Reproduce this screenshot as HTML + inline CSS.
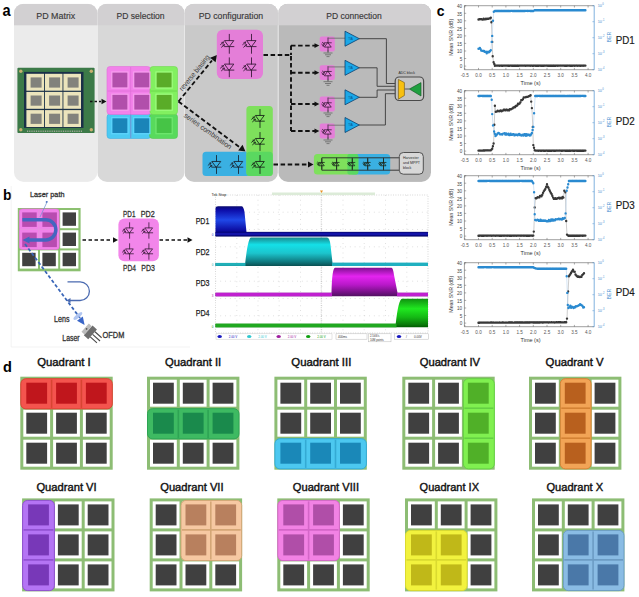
<!DOCTYPE html><html><head><meta charset="utf-8"><style>html,body{margin:0;padding:0;background:#fff;overflow:hidden;width:639px;height:597px;}svg{display:block;font-family:"Liberation Sans",sans-serif;}</style></head><body><svg width="639" height="597" viewBox="0 0 639 597" font-family="'Liberation Sans', sans-serif">
<rect width="639" height="597" fill="#fff"/>
<defs><linearGradient id="gb" x1="0" y1="0" x2="0" y2="1"><stop offset="0" stop-color="#0a0a70"/><stop offset="0.12" stop-color="#0c0ca8"/><stop offset="0.45" stop-color="#2048e8"/><stop offset="0.8" stop-color="#0c0ca0"/><stop offset="1" stop-color="#000060"/></linearGradient><linearGradient id="gc" x1="0" y1="0" x2="0" y2="1"><stop offset="0" stop-color="#1a8a8e"/><stop offset="0.25" stop-color="#14e0e8"/><stop offset="0.55" stop-color="#1cc4cc"/><stop offset="0.85" stop-color="#0f7a80"/><stop offset="1" stop-color="#0a5052"/></linearGradient><linearGradient id="gm" x1="0" y1="0" x2="0" y2="1"><stop offset="0" stop-color="#801090"/><stop offset="0.3" stop-color="#e424f0"/><stop offset="0.6" stop-color="#b818c8"/><stop offset="0.88" stop-color="#701080"/><stop offset="1" stop-color="#501060"/></linearGradient><linearGradient id="gg" x1="0" y1="0" x2="0" y2="1"><stop offset="0" stop-color="#109010"/><stop offset="0.35" stop-color="#20e820"/><stop offset="0.65" stop-color="#14b814"/><stop offset="0.9" stop-color="#0a7a0a"/><stop offset="1" stop-color="#005a00"/></linearGradient></defs>
<text transform="translate(2.6,15.5) scale(0.9,1)" font-size="16.2" font-weight="bold" fill="#000">a</text>
<text transform="translate(3.1,199.9) scale(0.95,1)" font-size="15" font-weight="bold" fill="#000">b</text>
<text transform="translate(436.8,16.2) scale(0.93,1)" font-size="15" font-weight="bold" fill="#000">c</text>
<text transform="translate(2.9,371.6) scale(0.95,1)" font-size="15.3" font-weight="bold" fill="#000">d</text>
<clipPath id="cp14"><rect x="14" y="3.8" width="83.3" height="178.1" rx="9.5"/></clipPath>
<g clip-path="url(#cp14)"><rect x="14" y="3.8" width="83.3" height="178.1" fill="#ebebeb"/><rect x="14" y="3.8" width="83.3" height="21.5" fill="#d2d0d2"/></g>
<text x="36.3" y="19.1" font-size="9" fill="#3a3a3a" text-anchor="start" font-weight="normal" textLength="39" lengthAdjust="spacingAndGlyphs" stroke="#3a3a3a" stroke-width="0.15">PD Matrix</text>
<clipPath id="cp97"><rect x="97.3" y="3.8" width="87.1" height="178.1" rx="9.5"/></clipPath>
<g clip-path="url(#cp97)"><rect x="97.3" y="3.8" width="87.1" height="178.1" fill="#d8d8d8"/><rect x="97.3" y="3.8" width="87.1" height="21.5" fill="#d2d0d2"/></g>
<text x="116.6" y="19.1" font-size="9" fill="#3a3a3a" text-anchor="start" font-weight="normal" textLength="48" lengthAdjust="spacingAndGlyphs" stroke="#3a3a3a" stroke-width="0.15">PD selection</text>
<clipPath id="cp184"><rect x="184.4" y="3.8" width="93.5" height="178.1" rx="9.5"/></clipPath>
<g clip-path="url(#cp184)"><rect x="184.4" y="3.8" width="93.5" height="178.1" fill="#c9c9c9"/><rect x="184.4" y="3.8" width="93.5" height="21.5" fill="#d2d0d2"/></g>
<text x="198.7" y="19.1" font-size="9" fill="#3a3a3a" text-anchor="start" font-weight="normal" textLength="64.5" lengthAdjust="spacingAndGlyphs" stroke="#3a3a3a" stroke-width="0.15">PD configuration</text>
<clipPath id="cp278"><rect x="278.3" y="3.8" width="152.7" height="178.1" rx="9.5"/></clipPath>
<g clip-path="url(#cp278)"><rect x="278.3" y="3.8" width="152.7" height="178.1" fill="#bababa"/><rect x="278.3" y="3.8" width="152.7" height="21.5" fill="#d2d0d2"/></g>
<text x="326.2" y="19.1" font-size="9" fill="#3a3a3a" text-anchor="start" font-weight="normal" textLength="55.6" lengthAdjust="spacingAndGlyphs" stroke="#3a3a3a" stroke-width="0.15">PD connection</text>
<rect x="17.4" y="67.7" width="77.2" height="65.3" rx="1" fill="#3c7a48"/>
<rect x="24" y="71.9" width="59.5" height="56" fill="#1a3048"/>
<rect x="26.4" y="73.8" width="17.6" height="16.9" fill="#ebe4bc"/>
<rect x="30.6" y="77.4" width="11" height="10.2" fill="#82827c"/>
<rect x="44.9" y="73.8" width="17.6" height="16.9" fill="#ebe4bc"/>
<rect x="49.1" y="77.4" width="11" height="10.2" fill="#82827c"/>
<rect x="63.4" y="73.8" width="17.6" height="16.9" fill="#ebe4bc"/>
<rect x="67.6" y="77.4" width="11" height="10.2" fill="#82827c"/>
<rect x="26.4" y="91.9" width="17.6" height="16.9" fill="#ebe4bc"/>
<rect x="30.6" y="95.5" width="11" height="10.2" fill="#82827c"/>
<rect x="44.9" y="91.9" width="17.6" height="16.9" fill="#ebe4bc"/>
<rect x="49.1" y="95.5" width="11" height="10.2" fill="#82827c"/>
<rect x="63.4" y="91.9" width="17.6" height="16.9" fill="#ebe4bc"/>
<rect x="67.6" y="95.5" width="11" height="10.2" fill="#82827c"/>
<rect x="26.4" y="110.1" width="17.6" height="16.9" fill="#ebe4bc"/>
<rect x="30.6" y="113.7" width="11" height="10.2" fill="#82827c"/>
<rect x="44.9" y="110.1" width="17.6" height="16.9" fill="#ebe4bc"/>
<rect x="49.1" y="113.7" width="11" height="10.2" fill="#82827c"/>
<rect x="63.4" y="110.1" width="17.6" height="16.9" fill="#ebe4bc"/>
<rect x="67.6" y="113.7" width="11" height="10.2" fill="#82827c"/>
<circle cx="20.8" cy="71.2" r="1.7" fill="#c8b070"/>
<circle cx="91.3" cy="71.2" r="1.7" fill="#c8b070"/>
<circle cx="20.8" cy="129.8" r="1.7" fill="#c8b070"/>
<circle cx="91.3" cy="129.8" r="1.7" fill="#c8b070"/>
<path d="M27 131.2 h55" stroke="#a0a898" stroke-width="1.4" stroke-dasharray="1 0.8"/>
<path d="M90 101.5 H101" stroke="#111" stroke-width="1.6" fill="none" stroke-dasharray="2.5 2"/>
<path d="M106.5 101.5 L101.5 98.8 L101.5 104.2 Z" fill="#111"/>
<rect x="107" y="114" width="44" height="24.5" rx="3" fill="#4ccaf2" stroke="#40b0e0" stroke-width="0.6"/>
<rect x="149.5" y="114" width="28" height="24.5" rx="3" fill="#58da5c" stroke="#50c850" stroke-width="0.6"/>
<rect x="107" y="66.5" width="43.5" height="48" rx="3" fill="#f282ea" stroke="#e070d8" stroke-width="0.6"/>
<rect x="150" y="66.5" width="27.5" height="48" rx="3" fill="#82f060" stroke="#70d850" stroke-width="0.6"/>
<rect x="111.8" y="72" width="16.2" height="16" fill="#b14fab" stroke="#f8a0f0" stroke-width="1.2"/>
<rect x="133.7" y="72" width="16.2" height="16" fill="#b14fab" stroke="#f8a0f0" stroke-width="1.2"/>
<rect x="156" y="72" width="16.2" height="16" fill="#5aac28" stroke="#a0ff80" stroke-width="1.2"/>
<rect x="111.8" y="94.2" width="16.2" height="16" fill="#b14fab" stroke="#f8a0f0" stroke-width="1.2"/>
<rect x="133.7" y="94.2" width="16.2" height="16" fill="#b14fab" stroke="#f8a0f0" stroke-width="1.2"/>
<rect x="156" y="94.2" width="16.2" height="16" fill="#5aac28" stroke="#a0ff80" stroke-width="1.2"/>
<rect x="111.8" y="117.7" width="16.2" height="16" fill="#1a84b8" stroke="#60d8ff" stroke-width="1.2"/>
<rect x="133.7" y="117.7" width="16.2" height="16" fill="#1a84b8" stroke="#60d8ff" stroke-width="1.2"/>
<rect x="156" y="117.7" width="16.2" height="16" fill="#46c446" stroke="#70e870" stroke-width="1.2"/>
<path d="M130.7 67 V138 M107.5 91 H150" stroke="#e070d8" stroke-width="0.8"/>
<path d="M130.7 114.5 V138" stroke="#40a8d8" stroke-width="0.8"/>
<path d="M150.5 91 H177" stroke="#68d048" stroke-width="0.8"/>
<path d="M178.5 101.5 L212 60.5" stroke="#111" stroke-width="1.9" fill="none" stroke-dasharray="4.5 2.6"/>
<path d="M217.0 55.0 L210.1 57.7 L215.6 62.3 Z" fill="#111"/>
<path d="M178.5 101.5 L240 147.5" stroke="#111" stroke-width="1.9" fill="none" stroke-dasharray="4.5 2.6"/>
<path d="M245.5 151.5 L242.5 144.7 L238.2 150.4 Z" fill="#111"/>
<text x="0" y="0" font-size="7.2" fill="#3a3a3a" text-anchor="middle" textLength="44" lengthAdjust="spacingAndGlyphs" transform="translate(196.3,74.3) rotate(-51)">reverse biasing</text>
<text x="0" y="0" font-size="7.2" fill="#3a3a3a" text-anchor="middle" textLength="57" lengthAdjust="spacingAndGlyphs" transform="translate(206.5,133) rotate(35.5)">series combination</text>
<rect x="216.8" y="29.7" width="46.2" height="49.3" rx="6" fill="#e47ed8"/>
<g transform="translate(229.3,43.8) scale(1.0,1.0)" stroke="#3a1a3a" stroke-width="0.90" fill="none" stroke-linecap="round"><path d="M0 -9.5 V-3.2 M0 2.8 V9.5 M-4.5 -3.2 H4.5 L0 2.8 Z M-4.6 2.8 H4.6 M-8.8 0.8 L-6 -1.6 M-7.8 3.4 L-5 1"/><path d="M-6 -1.6 l-1.6 0.2 M-6 -1.6 l-0.2 1.6 M-5 1 l-1.6 0.2 M-5 1 l-0.2 1.6" stroke-width="0.72"/></g>
<g transform="translate(229.3,67.3) scale(1.0,1.0)" stroke="#3a1a3a" stroke-width="0.90" fill="none" stroke-linecap="round"><path d="M0 -9.5 V-3.2 M0 2.8 V9.5 M-4.5 -3.2 H4.5 L0 2.8 Z M-4.6 2.8 H4.6 M-8.8 0.8 L-6 -1.6 M-7.8 3.4 L-5 1"/><path d="M-6 -1.6 l-1.6 0.2 M-6 -1.6 l-0.2 1.6 M-5 1 l-1.6 0.2 M-5 1 l-0.2 1.6" stroke-width="0.72"/></g>
<g transform="translate(251.5,43.8) scale(1.0,1.0)" stroke="#3a1a3a" stroke-width="0.90" fill="none" stroke-linecap="round"><path d="M0 -9.5 V-3.2 M0 2.8 V9.5 M-4.5 -3.2 H4.5 L0 2.8 Z M-4.6 2.8 H4.6 M-8.8 0.8 L-6 -1.6 M-7.8 3.4 L-5 1"/><path d="M-6 -1.6 l-1.6 0.2 M-6 -1.6 l-0.2 1.6 M-5 1 l-1.6 0.2 M-5 1 l-0.2 1.6" stroke-width="0.72"/></g>
<g transform="translate(251.5,67.3) scale(1.0,1.0)" stroke="#3a1a3a" stroke-width="0.90" fill="none" stroke-linecap="round"><path d="M0 -9.5 V-3.2 M0 2.8 V9.5 M-4.5 -3.2 H4.5 L0 2.8 Z M-4.6 2.8 H4.6 M-8.8 0.8 L-6 -1.6 M-7.8 3.4 L-5 1"/><path d="M-6 -1.6 l-1.6 0.2 M-6 -1.6 l-0.2 1.6 M-5 1 l-1.6 0.2 M-5 1 l-0.2 1.6" stroke-width="0.72"/></g>
<rect x="202.5" y="151.8" width="48" height="24.3" rx="3.5" fill="#3ab0e2"/>
<rect x="246.4" y="106" width="26.4" height="70" rx="3.5" fill="#7ee05c"/>
<rect x="246.4" y="151.8" width="26.4" height="24.3" rx="3.5" fill="#5ad860"/>
<g transform="translate(260,118.5) scale(0.95,0.95)" stroke="#1a2a1a" stroke-width="0.95" fill="none" stroke-linecap="round"><path d="M0 -9.5 V-3.2 M0 2.8 V9.5 M-4.5 -3.2 H4.5 L0 2.8 Z M-4.6 2.8 H4.6 M-8.8 0.8 L-6 -1.6 M-7.8 3.4 L-5 1"/><path d="M-6 -1.6 l-1.6 0.2 M-6 -1.6 l-0.2 1.6 M-5 1 l-1.6 0.2 M-5 1 l-0.2 1.6" stroke-width="0.76"/></g>
<g transform="translate(260,141.5) scale(0.95,0.95)" stroke="#1a2a1a" stroke-width="0.95" fill="none" stroke-linecap="round"><path d="M0 -9.5 V-3.2 M0 2.8 V9.5 M-4.5 -3.2 H4.5 L0 2.8 Z M-4.6 2.8 H4.6 M-8.8 0.8 L-6 -1.6 M-7.8 3.4 L-5 1"/><path d="M-6 -1.6 l-1.6 0.2 M-6 -1.6 l-0.2 1.6 M-5 1 l-1.6 0.2 M-5 1 l-0.2 1.6" stroke-width="0.76"/></g>
<g transform="translate(260,164.5) scale(0.95,0.95)" stroke="#1a2a1a" stroke-width="0.95" fill="none" stroke-linecap="round"><path d="M0 -9.5 V-3.2 M0 2.8 V9.5 M-4.5 -3.2 H4.5 L0 2.8 Z M-4.6 2.8 H4.6 M-8.8 0.8 L-6 -1.6 M-7.8 3.4 L-5 1"/><path d="M-6 -1.6 l-1.6 0.2 M-6 -1.6 l-0.2 1.6 M-5 1 l-1.6 0.2 M-5 1 l-0.2 1.6" stroke-width="0.76"/></g>
<g transform="translate(216.5,164.5) scale(0.95,0.95)" stroke="#1a2a3a" stroke-width="0.95" fill="none" stroke-linecap="round"><path d="M0 -9.5 V-3.2 M0 2.8 V9.5 M-4.5 -3.2 H4.5 L0 2.8 Z M-4.6 2.8 H4.6 M-8.8 0.8 L-6 -1.6 M-7.8 3.4 L-5 1"/><path d="M-6 -1.6 l-1.6 0.2 M-6 -1.6 l-0.2 1.6 M-5 1 l-1.6 0.2 M-5 1 l-0.2 1.6" stroke-width="0.76"/></g>
<g transform="translate(238.5,164.5) scale(0.95,0.95)" stroke="#1a2a3a" stroke-width="0.95" fill="none" stroke-linecap="round"><path d="M0 -9.5 V-3.2 M0 2.8 V9.5 M-4.5 -3.2 H4.5 L0 2.8 Z M-4.6 2.8 H4.6 M-8.8 0.8 L-6 -1.6 M-7.8 3.4 L-5 1"/><path d="M-6 -1.6 l-1.6 0.2 M-6 -1.6 l-0.2 1.6 M-5 1 l-1.6 0.2 M-5 1 l-0.2 1.6" stroke-width="0.76"/></g>
<path d="M273.5 164.5 H308" stroke="#111" stroke-width="1.9" fill="none" stroke-dasharray="4.5 2.6"/>
<path d="M313.5 164.5 L308.0 161.5 L308.0 167.5 Z" fill="#111"/>
<path d="M263.5 55 H291 V131 M291 45.6 V55 M291 45.6 H315 M291 72.7 H315 M291 104 H315 M291 131 H315" stroke="#111" stroke-width="1.9" fill="none" stroke-dasharray="4.5 2.6"/>
<path d="M319.3 45.6 L314.5 43.2 L314.5 48.0 Z" fill="#111"/>
<rect x="319.7" y="36.6" width="15.1" height="14.8" rx="2" fill="#e47ed8"/>
<g transform="translate(328,44.8) scale(0.72,-0.72)" stroke="#3a1a3a" stroke-width="1.11" fill="none" stroke-linecap="round"><path d="M0 -9.5 V-3.2 M0 2.8 V9.5 M-4.5 -3.2 H4.5 L0 2.8 Z M-4.6 2.8 H4.6 M-8.8 0.8 L-6 -1.6 M-7.8 3.4 L-5 1"/><path d="M-6 -1.6 l-1.6 0.2 M-6 -1.6 l-0.2 1.6 M-5 1 l-1.6 0.2 M-5 1 l-0.2 1.6" stroke-width="0.89"/></g>
<path d="M328 37.8 V38.2 H345 M328 50.0 V53.0 M323.5 53.0 h9 M325 54.8 h6 M326.5 56.6 h3" stroke="#666" stroke-width="0.8" fill="none"/>
<path d="M319.3 72.7 L314.5 70.3 L314.5 75.1 Z" fill="#111"/>
<rect x="319.7" y="65.3" width="15.1" height="14.8" rx="2" fill="#e47ed8"/>
<g transform="translate(328,73.5) scale(0.72,-0.72)" stroke="#3a1a3a" stroke-width="1.11" fill="none" stroke-linecap="round"><path d="M0 -9.5 V-3.2 M0 2.8 V9.5 M-4.5 -3.2 H4.5 L0 2.8 Z M-4.6 2.8 H4.6 M-8.8 0.8 L-6 -1.6 M-7.8 3.4 L-5 1"/><path d="M-6 -1.6 l-1.6 0.2 M-6 -1.6 l-0.2 1.6 M-5 1 l-1.6 0.2 M-5 1 l-0.2 1.6" stroke-width="0.89"/></g>
<path d="M328 66.5 V66.9 H345 M328 78.7 V81.7 M323.5 81.7 h9 M325 83.5 h6 M326.5 85.3 h3" stroke="#666" stroke-width="0.8" fill="none"/>
<path d="M319.3 104.0 L314.5 101.6 L314.5 106.4 Z" fill="#111"/>
<rect x="319.7" y="96.6" width="15.1" height="14.8" rx="2" fill="#e47ed8"/>
<g transform="translate(328,104.8) scale(0.72,-0.72)" stroke="#3a1a3a" stroke-width="1.11" fill="none" stroke-linecap="round"><path d="M0 -9.5 V-3.2 M0 2.8 V9.5 M-4.5 -3.2 H4.5 L0 2.8 Z M-4.6 2.8 H4.6 M-8.8 0.8 L-6 -1.6 M-7.8 3.4 L-5 1"/><path d="M-6 -1.6 l-1.6 0.2 M-6 -1.6 l-0.2 1.6 M-5 1 l-1.6 0.2 M-5 1 l-0.2 1.6" stroke-width="0.89"/></g>
<path d="M328 97.8 V98.2 H345 M328 110.0 V113.0 M323.5 113.0 h9 M325 114.8 h6 M326.5 116.6 h3" stroke="#666" stroke-width="0.8" fill="none"/>
<path d="M319.3 131.0 L314.5 128.6 L314.5 133.4 Z" fill="#111"/>
<rect x="319.7" y="123.6" width="15.1" height="14.8" rx="2" fill="#e47ed8"/>
<g transform="translate(328,131.8) scale(0.72,-0.72)" stroke="#3a1a3a" stroke-width="1.11" fill="none" stroke-linecap="round"><path d="M0 -9.5 V-3.2 M0 2.8 V9.5 M-4.5 -3.2 H4.5 L0 2.8 Z M-4.6 2.8 H4.6 M-8.8 0.8 L-6 -1.6 M-7.8 3.4 L-5 1"/><path d="M-6 -1.6 l-1.6 0.2 M-6 -1.6 l-0.2 1.6 M-5 1 l-1.6 0.2 M-5 1 l-0.2 1.6" stroke-width="0.89"/></g>
<path d="M328 124.8 V125.2 H345 M328 137.0 V140.0 M323.5 140.0 h9 M325 141.8 h6 M326.5 143.6 h3" stroke="#666" stroke-width="0.8" fill="none"/>
<path d="M359 38.7 H386.4 V83.5 H398" stroke="#3a3a3a" stroke-width="0.9" fill="none"/>
<path d="M345 31.200000000000003 L359.3 38.7 L345 46.2 Z" fill="#1ba8e8" stroke="#0a4070" stroke-width="0.8"/>
<text x="350.5" y="39.900000000000006" font-size="3" fill="#0a4a80" text-anchor="middle" font-weight="normal" >TIA</text>
<path d="M359 67.8 H377.1 V86.3 H398" stroke="#3a3a3a" stroke-width="0.9" fill="none"/>
<path d="M345 60.3 L359.3 67.8 L345 75.3 Z" fill="#1ba8e8" stroke="#0a4070" stroke-width="0.8"/>
<text x="350.5" y="69.0" font-size="3" fill="#0a4a80" text-anchor="middle" font-weight="normal" >TIA</text>
<path d="M359 97.3 H377.1 V90 H398" stroke="#3a3a3a" stroke-width="0.9" fill="none"/>
<path d="M345 89.8 L359.3 97.3 L345 104.8 Z" fill="#1ba8e8" stroke="#0a4070" stroke-width="0.8"/>
<text x="350.5" y="98.5" font-size="3" fill="#0a4a80" text-anchor="middle" font-weight="normal" >TIA</text>
<path d="M359 125 H385.4 V93.7 H398" stroke="#3a3a3a" stroke-width="0.9" fill="none"/>
<path d="M345 117.5 L359.3 125 L345 132.5 Z" fill="#1ba8e8" stroke="#0a4070" stroke-width="0.8"/>
<text x="350.5" y="126.2" font-size="3" fill="#0a4a80" text-anchor="middle" font-weight="normal" >TIA</text>
<rect x="395.2" y="77" width="28.4" height="23.5" rx="4" fill="#c4c4c4" stroke="#4a4a4a" stroke-width="1.2"/>
<path d="M404.4 89 H409.4" stroke="#3a3a3a" stroke-width="0.8"/>
<path d="M398.4 79.4 L404.4 82.6 L404.4 95.5 L398.4 99.2 Z" fill="#f8c010" stroke="#6a5010" stroke-width="0.6"/>
<path d="M421 82.6 L421 96 L409.4 89 Z" fill="#20a040" stroke="#105020" stroke-width="0.6"/>
<text x="398.4" y="74.2" font-size="3.6" fill="#2a2a2a" text-anchor="start" font-weight="normal" textLength="16.5" lengthAdjust="spacingAndGlyphs" >ADC block</text>
<rect x="350" y="153.9" width="40.2" height="20.7" rx="3.5" fill="#3ab0e2"/>
<rect x="313.9" y="153.9" width="44.4" height="20.7" rx="3.5" fill="#7ee05c"/>
<rect x="347.4" y="153.9" width="10.9" height="20.7" rx="2" fill="#5ad860"/>
<path d="M321.8 157.8 H399.7 M321.8 170.2 H399.7" stroke="#2a2a2a" stroke-width="0.9" fill="none"/>
<path d="M321.8 157.8 V170.2" stroke="#2a2a2a" stroke-width="0.8"/>
<g transform="translate(321.8,164) scale(0.55,-0.55)" stroke="#1a2a1a" stroke-width="1.45" fill="none" stroke-linecap="round"><path d="M0 -9.5 V-3.2 M0 2.8 V9.5 M-4.5 -3.2 H4.5 L0 2.8 Z M-4.6 2.8 H4.6 M-8.8 0.8 L-6 -1.6 M-7.8 3.4 L-5 1"/><path d="M-6 -1.6 l-1.6 0.2 M-6 -1.6 l-0.2 1.6 M-5 1 l-1.6 0.2 M-5 1 l-0.2 1.6" stroke-width="1.16"/></g>
<path d="M336.6 157.8 V170.2" stroke="#2a2a2a" stroke-width="0.8"/>
<g transform="translate(336.6,164) scale(0.55,-0.55)" stroke="#1a2a1a" stroke-width="1.45" fill="none" stroke-linecap="round"><path d="M0 -9.5 V-3.2 M0 2.8 V9.5 M-4.5 -3.2 H4.5 L0 2.8 Z M-4.6 2.8 H4.6 M-8.8 0.8 L-6 -1.6 M-7.8 3.4 L-5 1"/><path d="M-6 -1.6 l-1.6 0.2 M-6 -1.6 l-0.2 1.6 M-5 1 l-1.6 0.2 M-5 1 l-0.2 1.6" stroke-width="1.16"/></g>
<path d="M352.3 157.8 V170.2" stroke="#2a2a2a" stroke-width="0.8"/>
<g transform="translate(352.3,164) scale(0.55,-0.55)" stroke="#1a2a1a" stroke-width="1.45" fill="none" stroke-linecap="round"><path d="M0 -9.5 V-3.2 M0 2.8 V9.5 M-4.5 -3.2 H4.5 L0 2.8 Z M-4.6 2.8 H4.6 M-8.8 0.8 L-6 -1.6 M-7.8 3.4 L-5 1"/><path d="M-6 -1.6 l-1.6 0.2 M-6 -1.6 l-0.2 1.6 M-5 1 l-1.6 0.2 M-5 1 l-0.2 1.6" stroke-width="1.16"/></g>
<path d="M367.7 157.8 V170.2" stroke="#2a2a2a" stroke-width="0.8"/>
<g transform="translate(367.7,164) scale(0.55,-0.55)" stroke="#1a2a1a" stroke-width="1.45" fill="none" stroke-linecap="round"><path d="M0 -9.5 V-3.2 M0 2.8 V9.5 M-4.5 -3.2 H4.5 L0 2.8 Z M-4.6 2.8 H4.6 M-8.8 0.8 L-6 -1.6 M-7.8 3.4 L-5 1"/><path d="M-6 -1.6 l-1.6 0.2 M-6 -1.6 l-0.2 1.6 M-5 1 l-1.6 0.2 M-5 1 l-0.2 1.6" stroke-width="1.16"/></g>
<path d="M383.5 157.8 V170.2" stroke="#2a2a2a" stroke-width="0.8"/>
<g transform="translate(383.5,164) scale(0.55,-0.55)" stroke="#1a2a1a" stroke-width="1.45" fill="none" stroke-linecap="round"><path d="M0 -9.5 V-3.2 M0 2.8 V9.5 M-4.5 -3.2 H4.5 L0 2.8 Z M-4.6 2.8 H4.6 M-8.8 0.8 L-6 -1.6 M-7.8 3.4 L-5 1"/><path d="M-6 -1.6 l-1.6 0.2 M-6 -1.6 l-0.2 1.6 M-5 1 l-1.6 0.2 M-5 1 l-0.2 1.6" stroke-width="1.16"/></g>
<rect x="399.3" y="152.5" width="24" height="21.7" rx="4" fill="#d8d8d8" stroke="#505050" stroke-width="1"/>
<text x="403" y="159" font-size="3.6" fill="#2a2a2a" text-anchor="start" font-weight="normal" >Harvester</text>
<text x="403" y="164" font-size="3.6" fill="#2a2a2a" text-anchor="start" font-weight="normal" >and MPPT</text>
<text x="403" y="169" font-size="3.6" fill="#2a2a2a" text-anchor="start" font-weight="normal" >block</text>
<path d="M11.2 186 V347 H190" stroke="#f0f0f0" stroke-width="0.8" fill="none"/>
<circle cx="46.6" cy="202" r="0.9" fill="#4a70c0"/>
<text x="30" y="196.5" font-size="7.8" fill="#333" text-anchor="start" font-weight="normal" textLength="34.5" lengthAdjust="spacingAndGlyphs" stroke="#333" stroke-width="0.3">Laser path</text>
<rect x="17.8" y="208" width="62.8" height="63.3" fill="#8cc070"/>
<rect x="19.8" y="210.0" width="18.2" height="18.2" fill="#fff"/>
<rect x="22.2" y="212.4" width="13.4" height="13.4" fill="#404040"/>
<rect x="40.0" y="210.0" width="18.2" height="18.2" fill="#fff"/>
<rect x="42.4" y="212.4" width="13.4" height="13.4" fill="#404040"/>
<rect x="60.2" y="210.0" width="18.2" height="18.2" fill="#fff"/>
<rect x="62.6" y="212.4" width="13.4" height="13.4" fill="#404040"/>
<rect x="19.8" y="230.2" width="18.2" height="18.2" fill="#fff"/>
<rect x="22.2" y="232.6" width="13.4" height="13.4" fill="#404040"/>
<rect x="40.0" y="230.2" width="18.2" height="18.2" fill="#fff"/>
<rect x="42.4" y="232.6" width="13.4" height="13.4" fill="#404040"/>
<rect x="60.2" y="230.2" width="18.2" height="18.2" fill="#fff"/>
<rect x="62.6" y="232.6" width="13.4" height="13.4" fill="#404040"/>
<rect x="19.8" y="250.4" width="18.2" height="18.2" fill="#fff"/>
<rect x="22.2" y="252.8" width="13.4" height="13.4" fill="#404040"/>
<rect x="40.0" y="250.4" width="18.2" height="18.2" fill="#fff"/>
<rect x="42.4" y="252.8" width="13.4" height="13.4" fill="#404040"/>
<rect x="60.2" y="250.4" width="18.2" height="18.2" fill="#fff"/>
<rect x="62.6" y="252.8" width="13.4" height="13.4" fill="#404040"/>
<rect x="19.4" y="208.9" width="39.8" height="40.6" rx="3" fill="#f282ea" stroke="#e070d8" stroke-width="0.6"/>
<rect x="22.2" y="212.4" width="14.5" height="14.5" fill="#b84cb0"/>
<rect x="42.4" y="212.4" width="14.5" height="14.5" fill="#b84cb0"/>
<rect x="22.2" y="232.6" width="14.5" height="14.5" fill="#b84cb0"/>
<rect x="42.4" y="232.6" width="14.5" height="14.5" fill="#b84cb0"/>
<path d="M38.7 209.5 V249 M20 229.4 H58.7" stroke="#e890e0" stroke-width="1.2"/>
<path d="M47.5 201 L40 217" stroke="#6a90d0" stroke-width="0.7"/>
<path d="M22.4 219.8 H45.8 A10.05 10.05 0 0 1 45.8 239.9 H29" stroke="#4466c0" stroke-width="3.5" fill="none"/>
<path d="M22.5 240.0 L29.5 243.5 L29.5 236.5 Z" fill="#4466c0"/>
<path d="M25 244 L80 318" stroke="#3a66b8" stroke-width="1.8" stroke-dasharray="3.4 2.2" fill="none"/>
<ellipse cx="77.9" cy="316" rx="5.5" ry="1.8" fill="#a8c0f0" opacity="0.9" transform="rotate(-40 77.9 316)"/>
<path d="M84.6 325.0 L82.8 316.4 L77.0 320.7 Z" fill="#3a66c8"/>
<path d="M67.5 281.9 H80.1 A9.3 9.3 0 0 1 80.1 300.5 H69" stroke="#4a6ab0" stroke-width="1.3" fill="none"/>
<path d="M66.5 300.5 L70.5 302.9 L70.5 298.1 Z" fill="#4a6ab0"/>
<text x="54.1" y="321.5" font-size="8.2" fill="#333" text-anchor="start" font-weight="normal" textLength="15.4" lengthAdjust="spacingAndGlyphs" stroke="#333" stroke-width="0.3">Lens</text>
<text x="62.3" y="340.8" font-size="8.2" fill="#333" text-anchor="start" font-weight="normal" textLength="17.3" lengthAdjust="spacingAndGlyphs" stroke="#333" stroke-width="0.3">Laser</text>
<text x="102.6" y="338.2" font-size="8.6" fill="#333" text-anchor="start" font-weight="normal" textLength="21.8" lengthAdjust="spacingAndGlyphs" stroke="#333" stroke-width="0.3">OFDM</text>
<g transform="translate(90,332) rotate(-48)"><path d="M-6.5 -2.5 H6.5 V3.5 H-6.5 Z" fill="#6e6e6e"/><path d="M-5.5 -6.5 H5.5 V-2.5 H-5.5 Z" fill="#bdbdbd"/><circle cx="0" cy="-4.6" r="0.9" fill="#555"/><path d="M-3.5 3.5 V12.5 M0 3.5 V13.5 M3.5 3.5 V12.5" stroke="#4a4a4a" stroke-width="1.1"/></g>
<rect x="118.4" y="218.5" width="40.5" height="42.8" rx="6" fill="#f286ea"/>
<g transform="translate(129.6,230.5) scale(0.82,0.82)" stroke="#3a1a3a" stroke-width="0.98" fill="none" stroke-linecap="round"><path d="M0 -9.5 V-3.2 M0 2.8 V9.5 M-4.5 -3.2 H4.5 L0 2.8 Z M-4.6 2.8 H4.6 M-8.8 0.8 L-6 -1.6 M-7.8 3.4 L-5 1"/><path d="M-6 -1.6 l-1.6 0.2 M-6 -1.6 l-0.2 1.6 M-5 1 l-1.6 0.2 M-5 1 l-0.2 1.6" stroke-width="0.78"/></g>
<g transform="translate(129.6,251.5) scale(0.82,0.82)" stroke="#3a1a3a" stroke-width="0.98" fill="none" stroke-linecap="round"><path d="M0 -9.5 V-3.2 M0 2.8 V9.5 M-4.5 -3.2 H4.5 L0 2.8 Z M-4.6 2.8 H4.6 M-8.8 0.8 L-6 -1.6 M-7.8 3.4 L-5 1"/><path d="M-6 -1.6 l-1.6 0.2 M-6 -1.6 l-0.2 1.6 M-5 1 l-1.6 0.2 M-5 1 l-0.2 1.6" stroke-width="0.78"/></g>
<g transform="translate(148.9,230.5) scale(0.82,0.82)" stroke="#3a1a3a" stroke-width="0.98" fill="none" stroke-linecap="round"><path d="M0 -9.5 V-3.2 M0 2.8 V9.5 M-4.5 -3.2 H4.5 L0 2.8 Z M-4.6 2.8 H4.6 M-8.8 0.8 L-6 -1.6 M-7.8 3.4 L-5 1"/><path d="M-6 -1.6 l-1.6 0.2 M-6 -1.6 l-0.2 1.6 M-5 1 l-1.6 0.2 M-5 1 l-0.2 1.6" stroke-width="0.78"/></g>
<g transform="translate(148.9,251.5) scale(0.82,0.82)" stroke="#3a1a3a" stroke-width="0.98" fill="none" stroke-linecap="round"><path d="M0 -9.5 V-3.2 M0 2.8 V9.5 M-4.5 -3.2 H4.5 L0 2.8 Z M-4.6 2.8 H4.6 M-8.8 0.8 L-6 -1.6 M-7.8 3.4 L-5 1"/><path d="M-6 -1.6 l-1.6 0.2 M-6 -1.6 l-0.2 1.6 M-5 1 l-1.6 0.2 M-5 1 l-0.2 1.6" stroke-width="0.78"/></g>
<text x="123.1" y="216.7" font-size="8.3" fill="#333" text-anchor="start" font-weight="normal" textLength="12.3" lengthAdjust="spacingAndGlyphs" stroke="#333" stroke-width="0.3">PD1</text>
<text x="140.7" y="216.7" font-size="8.3" fill="#333" text-anchor="start" font-weight="normal" textLength="14" lengthAdjust="spacingAndGlyphs" stroke="#333" stroke-width="0.3">PD2</text>
<text x="123.1" y="270.6" font-size="8.3" fill="#333" text-anchor="start" font-weight="normal" textLength="12.9" lengthAdjust="spacingAndGlyphs" stroke="#333" stroke-width="0.3">PD4</text>
<text x="141.3" y="270.6" font-size="8.3" fill="#333" text-anchor="start" font-weight="normal" textLength="13.5" lengthAdjust="spacingAndGlyphs" stroke="#333" stroke-width="0.3">PD3</text>
<path d="M82.5 240 H112.5" stroke="#111" stroke-width="1.6" fill="none" stroke-dasharray="3.5 2.5"/>
<path d="M118.0 240.0 L113.0 237.2 L113.0 242.8 Z" fill="#111"/>
<path d="M159.5 240 H187" stroke="#111" stroke-width="1.6" fill="none" stroke-dasharray="3.5 2.5"/>
<path d="M192.5 240.0 L187.5 237.2 L187.5 242.8 Z" fill="#111"/>
<rect x="215.5" y="195" width="212.5" height="138" fill="none" stroke="#b0b0b0" stroke-width="0.6" stroke-dasharray="0.8 1.6"/>
<path d="M236.8 195 V333" stroke="#c0c0c0" stroke-width="0.6" stroke-dasharray="0.8 4"/>
<path d="M258.0 195 V333" stroke="#c0c0c0" stroke-width="0.6" stroke-dasharray="0.8 4"/>
<path d="M279.2 195 V333" stroke="#c0c0c0" stroke-width="0.6" stroke-dasharray="0.8 4"/>
<path d="M300.5 195 V333" stroke="#c0c0c0" stroke-width="0.6" stroke-dasharray="0.8 4"/>
<path d="M321.8 195 V333" stroke="#c0c0c0" stroke-width="0.6" stroke-dasharray="0.8 4"/>
<path d="M343.0 195 V333" stroke="#c0c0c0" stroke-width="0.6" stroke-dasharray="0.8 4"/>
<path d="M364.2 195 V333" stroke="#c0c0c0" stroke-width="0.6" stroke-dasharray="0.8 4"/>
<path d="M385.5 195 V333" stroke="#c0c0c0" stroke-width="0.6" stroke-dasharray="0.8 4"/>
<path d="M406.8 195 V333" stroke="#c0c0c0" stroke-width="0.6" stroke-dasharray="0.8 4"/>
<path d="M215.5 212.2 H428" stroke="#c0c0c0" stroke-width="0.6" stroke-dasharray="0.8 4"/>
<path d="M215.5 229.5 H428" stroke="#c0c0c0" stroke-width="0.6" stroke-dasharray="0.8 4"/>
<path d="M215.5 246.8 H428" stroke="#c0c0c0" stroke-width="0.6" stroke-dasharray="0.8 4"/>
<path d="M215.5 264.0 H428" stroke="#c0c0c0" stroke-width="0.6" stroke-dasharray="0.8 4"/>
<path d="M215.5 281.2 H428" stroke="#c0c0c0" stroke-width="0.6" stroke-dasharray="0.8 4"/>
<path d="M215.5 298.5 H428" stroke="#c0c0c0" stroke-width="0.6" stroke-dasharray="0.8 4"/>
<path d="M215.5 315.8 H428" stroke="#c0c0c0" stroke-width="0.6" stroke-dasharray="0.8 4"/>
<path d="M321.25 195 V333" stroke="#a8a8a8" stroke-width="0.6" stroke-dasharray="1 1.2"/>
<rect x="272" y="192.5" width="103" height="2.6" fill="#dcebd8"/>
<text x="211.6" y="195.6" font-size="4.4" fill="#222" text-anchor="start" font-weight="normal" textLength="14.8" lengthAdjust="spacingAndGlyphs" >Tek Stop</text>
<path d="M320 190.5 l1.5 2.5 l1.5 -2.5 z" fill="#e89020"/>
<path d="M215.5 236.6 V208 Q215.5 206.3 218 206.3 H241.5 Q243.5 206.3 244.5 212 L246.5 232.3 H428 V236.6 Z" fill="url(#gb)"/>
<rect x="215.5" y="232.2" width="212.5" height="3.6" fill="#1414a8"/><path d="M215.5 232.3 H428 M215.5 235.7 H428" stroke="#00006a" stroke-width="0.7"/>
<path d="M215.5 266 V263 H245.2 Q248 238 251 237.6 H327 Q329.5 237.6 330.5 245 L332.5 263 H428 V266 Z" fill="url(#gc)"/>
<rect x="215.5" y="262.9" width="30" height="3" fill="#20b0b8"/><rect x="332" y="262.6" width="96" height="3.4" fill="#20b0c0"/>
<path d="M215.5 296.3 V292.7 H331.5 Q332 268 335 267.7 H391.5 Q393 267.7 394 275 L397.5 292.7 H428 V296.3 Z" fill="url(#gm)"/>
<rect x="215.5" y="292.8" width="116.5" height="3.5" fill="#c020d0"/><rect x="397" y="292.8" width="31" height="3.5" fill="#c020d0"/>
<path d="M215.5 327.3 V323.7 H395.7 Q398.5 299 402 298.7 H428 V327.3 Z" fill="url(#gg)"/>
<rect x="215.5" y="323.7" width="181" height="3.6" fill="#20a820"/>
<text x="195.7" y="224.1" font-size="9.6" fill="#222" text-anchor="start" font-weight="normal" textLength="13.6" lengthAdjust="spacingAndGlyphs" stroke="#222" stroke-width="0.25">PD1</text>
<text x="195.7" y="255.1" font-size="9.6" fill="#222" text-anchor="start" font-weight="normal" textLength="13.8" lengthAdjust="spacingAndGlyphs" stroke="#222" stroke-width="0.25">PD2</text>
<text x="195.7" y="285.6" font-size="9.6" fill="#222" text-anchor="start" font-weight="normal" textLength="13.8" lengthAdjust="spacingAndGlyphs" stroke="#222" stroke-width="0.25">PD3</text>
<text x="195.7" y="316.0" font-size="9.6" fill="#222" text-anchor="start" font-weight="normal" textLength="13.8" lengthAdjust="spacingAndGlyphs" stroke="#222" stroke-width="0.25">PD4</text>
<text x="213.5" y="236" font-size="3" fill="#2020c0" text-anchor="end" font-weight="normal" >0</text>
<text x="213.5" y="266" font-size="3" fill="#20a0a0" text-anchor="end" font-weight="normal" >0</text>
<text x="213.5" y="297" font-size="3" fill="#a020a0" text-anchor="end" font-weight="normal" >3</text>
<text x="213.5" y="328" font-size="3" fill="#108010" text-anchor="end" font-weight="normal" >0</text>
<rect x="216" y="333.8" width="116" height="5.4" fill="#fff" stroke="#c8c8c8" stroke-width="0.5"/>
<ellipse cx="219.7" cy="336.5" rx="2.2" ry="1.5" fill="#1818c0"/>
<text x="228.7" y="337.8" font-size="3" fill="#1818c0" text-anchor="start" font-weight="normal" >2.00 V</text>
<ellipse cx="249.2" cy="336.5" rx="2.2" ry="1.5" fill="#30c8d0"/>
<text x="258.2" y="337.8" font-size="3" fill="#30c8d0" text-anchor="start" font-weight="normal" >2.00 V</text>
<ellipse cx="278.7" cy="336.5" rx="2.2" ry="1.5" fill="#a020a0"/>
<text x="287.7" y="337.8" font-size="3" fill="#a020a0" text-anchor="start" font-weight="normal" >2.00 V</text>
<ellipse cx="308.2" cy="336.5" rx="2.2" ry="1.5" fill="#10a010"/>
<text x="317.2" y="337.8" font-size="3" fill="#10a010" text-anchor="start" font-weight="normal" >2.00 V</text>
<rect x="336" y="333.8" width="31" height="5.4" fill="#fff" stroke="#b8b8b8" stroke-width="0.5"/>
<text x="338" y="337.5" font-size="3" fill="#333" text-anchor="start" font-weight="normal" >400ms</text>
<rect x="368.6" y="333.8" width="22.4" height="8" fill="#fff" stroke="#b8b8b8" stroke-width="0.5"/>
<text x="370" y="337" font-size="2.8" fill="#333" text-anchor="start" font-weight="normal" >2.5kS/s</text>
<text x="370" y="340.5" font-size="2.8" fill="#333" text-anchor="start" font-weight="normal" >10M points</text>
<rect x="394.5" y="333.8" width="34" height="5.4" fill="#fff" stroke="#b8b8b8" stroke-width="0.5"/>
<ellipse cx="399" cy="336.5" rx="2.2" ry="1.5" fill="#1818c0"/>
<text x="406" y="337.8" font-size="3.2" fill="#333" text-anchor="start" font-weight="normal" >/</text>
<text x="414" y="337.8" font-size="3" fill="#333" text-anchor="start" font-weight="normal" >0.00V</text>
<rect x="464.4" y="5.7" width="129.80000000000007" height="64.0" fill="#fff"/>
<path d="M594.2 5.7 H464.4 V69.7 H594.2" stroke="#606060" stroke-width="0.6" fill="none"/>
<path d="M464.4 66.1 h1.8" stroke="#555" stroke-width="0.5"/>
<text x="462.2" y="68.39999999999999" font-size="4.6" fill="#444" text-anchor="end" font-weight="normal" >0</text>
<path d="M464.4 58.5 h1.8" stroke="#555" stroke-width="0.5"/>
<text x="462.2" y="60.849999999999994" font-size="4.6" fill="#444" text-anchor="end" font-weight="normal" >5</text>
<path d="M464.4 51.0 h1.8" stroke="#555" stroke-width="0.5"/>
<text x="462.2" y="53.3" font-size="4.6" fill="#444" text-anchor="end" font-weight="normal" >10</text>
<path d="M464.4 43.4 h1.8" stroke="#555" stroke-width="0.5"/>
<text x="462.2" y="45.74999999999999" font-size="4.6" fill="#444" text-anchor="end" font-weight="normal" >15</text>
<path d="M464.4 35.9 h1.8" stroke="#555" stroke-width="0.5"/>
<text x="462.2" y="38.199999999999996" font-size="4.6" fill="#444" text-anchor="end" font-weight="normal" >20</text>
<path d="M464.4 28.4 h1.8" stroke="#555" stroke-width="0.5"/>
<text x="462.2" y="30.650000000000002" font-size="4.6" fill="#444" text-anchor="end" font-weight="normal" >25</text>
<path d="M464.4 20.8 h1.8" stroke="#555" stroke-width="0.5"/>
<text x="462.2" y="23.099999999999998" font-size="4.6" fill="#444" text-anchor="end" font-weight="normal" >30</text>
<path d="M464.4 13.3 h1.8" stroke="#555" stroke-width="0.5"/>
<text x="462.2" y="15.550000000000008" font-size="4.6" fill="#444" text-anchor="end" font-weight="normal" >35</text>
<path d="M464.4 5.7 h1.8" stroke="#555" stroke-width="0.5"/>
<text x="462.2" y="8.000000000000004" font-size="4.6" fill="#444" text-anchor="end" font-weight="normal" >40</text>
<path d="M464.8 69.7 v-1.8 M464.8 5.7 v1.8" stroke="#555" stroke-width="0.5"/>
<text x="464.8" y="76.9" font-size="4.6" fill="#555" text-anchor="middle" font-weight="normal" >-0.5</text>
<path d="M478.5 69.7 v-1.8 M478.5 5.7 v1.8" stroke="#555" stroke-width="0.5"/>
<text x="478.5" y="76.9" font-size="4.6" fill="#555" text-anchor="middle" font-weight="normal" >0.0</text>
<path d="M492.2 69.7 v-1.8 M492.2 5.7 v1.8" stroke="#555" stroke-width="0.5"/>
<text x="492.2" y="76.9" font-size="4.6" fill="#555" text-anchor="middle" font-weight="normal" >0.5</text>
<path d="M505.9 69.7 v-1.8 M505.9 5.7 v1.8" stroke="#555" stroke-width="0.5"/>
<text x="505.9" y="76.9" font-size="4.6" fill="#555" text-anchor="middle" font-weight="normal" >1.0</text>
<path d="M519.6 69.7 v-1.8 M519.6 5.7 v1.8" stroke="#555" stroke-width="0.5"/>
<text x="519.6" y="76.9" font-size="4.6" fill="#555" text-anchor="middle" font-weight="normal" >1.5</text>
<path d="M533.3 69.7 v-1.8 M533.3 5.7 v1.8" stroke="#555" stroke-width="0.5"/>
<text x="533.3" y="76.9" font-size="4.6" fill="#555" text-anchor="middle" font-weight="normal" >2.0</text>
<path d="M547.0 69.7 v-1.8 M547.0 5.7 v1.8" stroke="#555" stroke-width="0.5"/>
<text x="547.0" y="76.9" font-size="4.6" fill="#555" text-anchor="middle" font-weight="normal" >2.5</text>
<path d="M560.7 69.7 v-1.8 M560.7 5.7 v1.8" stroke="#555" stroke-width="0.5"/>
<text x="560.7" y="76.9" font-size="4.6" fill="#555" text-anchor="middle" font-weight="normal" >3.0</text>
<path d="M574.4 69.7 v-1.8 M574.4 5.7 v1.8" stroke="#555" stroke-width="0.5"/>
<text x="574.4" y="76.9" font-size="4.6" fill="#555" text-anchor="middle" font-weight="normal" >3.5</text>
<path d="M588.1 69.7 v-1.8 M588.1 5.7 v1.8" stroke="#555" stroke-width="0.5"/>
<text x="588.1" y="76.9" font-size="4.6" fill="#555" text-anchor="middle" font-weight="normal" >4.0</text>
<path d="M594.2 5.7 V69.7" stroke="#4a90d0" stroke-width="0.7"/>
<path d="M594.2 5.7 h-1.8" stroke="#4a90d0" stroke-width="0.5"/>
<text x="597.7" y="7.300000000000001" font-size="3.8" fill="#4a90d0" text-anchor="start" font-weight="normal" >10</text>
<text x="602.2" y="5.4" font-size="2.6" fill="#4a90d0" text-anchor="start" font-weight="normal" >0</text>
<path d="M594.2 21.7 h-1.8" stroke="#4a90d0" stroke-width="0.5"/>
<text x="597.7" y="23.3" font-size="3.8" fill="#4a90d0" text-anchor="start" font-weight="normal" >10</text>
<text x="602.2" y="21.4" font-size="2.6" fill="#4a90d0" text-anchor="start" font-weight="normal" >-1</text>
<path d="M594.2 37.7 h-1.8" stroke="#4a90d0" stroke-width="0.5"/>
<text x="597.7" y="39.300000000000004" font-size="3.8" fill="#4a90d0" text-anchor="start" font-weight="normal" >10</text>
<text x="602.2" y="37.400000000000006" font-size="2.6" fill="#4a90d0" text-anchor="start" font-weight="normal" >-2</text>
<path d="M594.2 53.7 h-1.8" stroke="#4a90d0" stroke-width="0.5"/>
<text x="597.7" y="55.300000000000004" font-size="3.8" fill="#4a90d0" text-anchor="start" font-weight="normal" >10</text>
<text x="602.2" y="53.400000000000006" font-size="2.6" fill="#4a90d0" text-anchor="start" font-weight="normal" >-3</text>
<path d="M594.2 69.7 h-1.8" stroke="#4a90d0" stroke-width="0.5"/>
<text x="597.7" y="71.3" font-size="3.8" fill="#4a90d0" text-anchor="start" font-weight="normal" >10</text>
<text x="602.2" y="69.4" font-size="2.6" fill="#4a90d0" text-anchor="start" font-weight="normal" >-4</text>
<text x="530.56" y="84.7" font-size="5.8" fill="#333" text-anchor="middle" font-weight="normal" textLength="20" lengthAdjust="spacingAndGlyphs" >Time (s)</text>
<text x="0" y="0" font-size="5.2" fill="#333" text-anchor="middle" textLength="37" lengthAdjust="spacingAndGlyphs" transform="translate(453.2,37.2) rotate(-90)">Mean SNR (dB)</text>
<text x="0" y="0" font-size="5.2" fill="#4a90d0" text-anchor="middle" transform="translate(610.6,37.2) rotate(-90)">BER</text>
<text x="615.7" y="43.8" font-size="11.6" fill="#1a1a1a" text-anchor="start" font-weight="normal" textLength="19" lengthAdjust="spacingAndGlyphs" stroke="#1a1a1a" stroke-width="0.2">PD1</text>
<path d="M478.5 19.5 L479.2 19.2 L480.0 19.3 L480.7 19.1 L481.5 19.1 L482.2 19.5 L483.0 19.5 L483.7 18.8 L484.5 19.3 L485.2 19.2 L486.0 18.6 L486.7 19.0 L487.5 18.6 L488.4 18.7 L489.2 18.4 L490.0 18.4 L490.8 17.8 L491.4 22.3 L492.2 41.9 L492.7 56.3 L493.6 62.3 L494.3 64.0 L494.9 65.7 L495.7 65.6 L496.5 65.6 L497.2 65.6 L498.0 65.6 L498.8 65.6 L499.5 65.7 L500.3 65.6 L501.1 65.6 L501.8 65.7 L502.6 65.7 L503.4 65.6 L504.1 65.6 L504.9 65.6 L505.7 65.6 L506.4 65.6 L507.2 65.6 L508.0 65.7 L508.7 65.6 L509.5 65.7 L510.3 65.6 L511.0 65.6 L511.8 65.7 L512.6 65.7 L513.3 65.7 L514.1 65.6 L514.9 65.7 L515.6 65.6 L516.4 65.7 L517.2 65.6 L517.9 65.7 L518.7 65.7 L519.5 65.6 L520.2 65.6 L521.0 65.6 L521.8 65.6 L522.5 65.6 L523.3 65.6 L524.1 65.6 L524.8 65.6 L525.6 65.7 L526.4 65.6 L527.1 65.6 L527.9 65.6 L528.7 65.6 L529.4 65.6 L530.2 65.7 L531.0 65.6 L531.7 65.6 L532.5 65.7 L533.3 65.7 L534.0 65.6 L534.8 65.6 L535.6 65.7 L536.3 65.6 L537.1 65.7 L537.9 65.7 L538.6 65.7 L539.4 65.6 L540.1 65.6 L540.9 65.7 L541.7 65.6 L542.4 65.7 L543.2 65.6 L544.0 65.7 L544.7 65.6 L545.5 65.6 L546.3 65.6 L547.0 65.6 L547.8 65.7 L548.6 65.7 L549.3 65.6 L550.1 65.7 L550.9 65.7 L551.6 65.7 L552.4 65.6 L553.2 65.7 L553.9 65.7 L554.7 65.6 L555.5 65.7 L556.2 65.6 L557.0 65.6 L557.8 65.7 L558.5 65.6 L559.3 65.6 L560.1 65.6 L560.8 65.6 L561.6 65.6 L562.4 65.6 L563.1 65.6 L563.9 65.6 L564.7 65.7 L565.4 65.6 L566.2 65.7 L567.0 65.7 L567.7 65.6 L568.5 65.6 L569.3 65.6 L570.0 65.7 L570.8 65.7 L571.6 65.6 L572.3 65.7 L573.1 65.6 L573.9 65.6 L574.6 65.7 L575.4 65.6 L576.2 65.6 L576.9 65.6 L577.7 65.7 L578.5 65.6 L579.2 65.6 L580.0 65.7 L580.8 65.7 L581.5 65.6 L582.3 65.6 L583.1 65.7 L583.8 65.6 L584.6 65.6 L585.4 65.6" stroke="#9a9a9a" stroke-width="0.5" fill="none"/>
<path d="M478.5 19.5h0 M479.2 19.2h0 M480.0 19.3h0 M480.7 19.1h0 M481.5 19.1h0 M482.2 19.5h0 M483.0 19.5h0 M483.7 18.8h0 M484.5 19.3h0 M485.2 19.2h0 M486.0 18.6h0 M486.7 19.0h0 M487.5 18.6h0 M488.4 18.7h0 M489.2 18.4h0 M490.0 18.4h0 M490.8 17.8h0 M491.4 22.3h0 M492.2 41.9h0 M492.7 56.3h0 M493.6 62.3h0 M494.3 64.0h0 M494.9 65.7h0 M495.7 65.6h0 M496.5 65.6h0 M497.2 65.6h0 M498.0 65.6h0 M498.8 65.6h0 M499.5 65.7h0 M500.3 65.6h0 M501.1 65.6h0 M501.8 65.7h0 M502.6 65.7h0 M503.4 65.6h0 M504.1 65.6h0 M504.9 65.6h0 M505.7 65.6h0 M506.4 65.6h0 M507.2 65.6h0 M508.0 65.7h0 M508.7 65.6h0 M509.5 65.7h0 M510.3 65.6h0 M511.0 65.6h0 M511.8 65.7h0 M512.6 65.7h0 M513.3 65.7h0 M514.1 65.6h0 M514.9 65.7h0 M515.6 65.6h0 M516.4 65.7h0 M517.2 65.6h0 M517.9 65.7h0 M518.7 65.7h0 M519.5 65.6h0 M520.2 65.6h0 M521.0 65.6h0 M521.8 65.6h0 M522.5 65.6h0 M523.3 65.6h0 M524.1 65.6h0 M524.8 65.6h0 M525.6 65.7h0 M526.4 65.6h0 M527.1 65.6h0 M527.9 65.6h0 M528.7 65.6h0 M529.4 65.6h0 M530.2 65.7h0 M531.0 65.6h0 M531.7 65.6h0 M532.5 65.7h0 M533.3 65.7h0 M534.0 65.6h0 M534.8 65.6h0 M535.6 65.7h0 M536.3 65.6h0 M537.1 65.7h0 M537.9 65.7h0 M538.6 65.7h0 M539.4 65.6h0 M540.1 65.6h0 M540.9 65.7h0 M541.7 65.6h0 M542.4 65.7h0 M543.2 65.6h0 M544.0 65.7h0 M544.7 65.6h0 M545.5 65.6h0 M546.3 65.6h0 M547.0 65.6h0 M547.8 65.7h0 M548.6 65.7h0 M549.3 65.6h0 M550.1 65.7h0 M550.9 65.7h0 M551.6 65.7h0 M552.4 65.6h0 M553.2 65.7h0 M553.9 65.7h0 M554.7 65.6h0 M555.5 65.7h0 M556.2 65.6h0 M557.0 65.6h0 M557.8 65.7h0 M558.5 65.6h0 M559.3 65.6h0 M560.1 65.6h0 M560.8 65.6h0 M561.6 65.6h0 M562.4 65.6h0 M563.1 65.6h0 M563.9 65.6h0 M564.7 65.7h0 M565.4 65.6h0 M566.2 65.7h0 M567.0 65.7h0 M567.7 65.6h0 M568.5 65.6h0 M569.3 65.6h0 M570.0 65.7h0 M570.8 65.7h0 M571.6 65.6h0 M572.3 65.7h0 M573.1 65.6h0 M573.9 65.6h0 M574.6 65.7h0 M575.4 65.6h0 M576.2 65.6h0 M576.9 65.6h0 M577.7 65.7h0 M578.5 65.6h0 M579.2 65.6h0 M580.0 65.7h0 M580.8 65.7h0 M581.5 65.6h0 M582.3 65.6h0 M583.1 65.7h0 M583.8 65.6h0 M584.6 65.6h0 M585.4 65.6h0" stroke="#383838" stroke-width="2.4" stroke-linecap="round"/>
<path d="M478.5 48.7 L479.2 48.4 L479.9 48.0 L480.6 49.1 L481.2 50.5 L481.9 50.6 L482.6 50.9 L483.3 51.0 L484.0 50.9 L484.7 51.7 L485.4 51.9 L486.0 51.7 L486.7 53.2 L487.4 52.2 L488.1 51.8 L488.8 52.2 L489.5 51.8 L490.1 51.0 L490.8 50.2 L491.7 41.9 L492.2 35.9 L493.0 20.8 L493.8 11.7 L494.9 11.0 L495.7 10.9 L496.5 11.0 L497.2 11.0 L498.0 11.0 L498.8 11.0 L499.5 11.0 L500.3 11.0 L501.1 11.0 L501.8 10.9 L502.6 11.0 L503.4 10.9 L504.1 11.0 L504.9 11.0 L505.7 11.0 L506.4 10.9 L507.2 11.0 L508.0 11.0 L508.7 11.0 L509.5 11.0 L510.3 11.0 L511.1 10.9 L511.8 10.9 L512.6 11.0 L513.4 11.0 L514.1 10.9 L514.9 11.0 L515.7 10.9 L516.4 11.0 L517.2 11.0 L518.0 11.0 L518.7 10.9 L519.5 11.0 L520.3 11.0 L521.0 11.0 L521.8 11.0 L522.6 11.0 L523.3 10.9 L524.1 11.0 L524.9 11.0 L525.6 10.9 L526.4 10.9 L527.2 10.9 L527.9 11.0 L528.7 10.9 L529.5 10.9 L530.2 11.0 L531.0 11.0 L531.8 10.9 L532.5 11.0 L533.3 11.0 L534.0 10.6 L534.7 10.2 L535.4 10.3 L536.2 10.2 L537.0 10.3 L537.7 10.3 L538.5 10.2 L539.3 10.3 L540.0 10.2 L540.8 10.3 L541.6 10.2 L542.4 10.2 L543.1 10.2 L543.9 10.2 L544.7 10.2 L545.4 10.2 L546.2 10.3 L547.0 10.2 L547.7 10.3 L548.5 10.3 L549.3 10.2 L550.0 10.2 L550.8 10.2 L551.6 10.2 L552.3 10.2 L553.1 10.2 L553.9 10.3 L554.6 10.2 L555.4 10.2 L556.2 10.2 L556.9 10.2 L557.7 10.3 L558.5 10.2 L559.2 10.2 L560.0 10.3 L560.8 10.2 L561.6 10.2 L562.3 10.2 L563.1 10.2 L563.9 10.3 L564.6 10.2 L565.4 10.2 L566.2 10.3 L566.9 10.3 L567.7 10.3 L568.5 10.2 L569.2 10.2 L570.0 10.2 L570.8 10.2 L571.5 10.3 L572.3 10.3 L573.1 10.3 L573.8 10.3 L574.6 10.3 L575.4 10.2 L576.1 10.2 L576.9 10.3 L577.7 10.2 L578.4 10.3 L579.2 10.3 L580.0 10.2 L580.8 10.2 L581.5 10.2 L582.3 10.2 L583.1 10.3 L583.8 10.3 L584.6 10.3 L585.4 10.2" stroke="#a8c8e8" stroke-width="0.5" fill="none"/>
<path d="M478.5 48.7h0 M479.2 48.4h0 M479.9 48.0h0 M480.6 49.1h0 M481.2 50.5h0 M481.9 50.6h0 M482.6 50.9h0 M483.3 51.0h0 M484.0 50.9h0 M484.7 51.7h0 M485.4 51.9h0 M486.0 51.7h0 M486.7 53.2h0 M487.4 52.2h0 M488.1 51.8h0 M488.8 52.2h0 M489.5 51.8h0 M490.1 51.0h0 M490.8 50.2h0 M491.7 41.9h0 M492.2 35.9h0 M493.0 20.8h0 M493.8 11.7h0 M494.9 11.0h0 M495.7 10.9h0 M496.5 11.0h0 M497.2 11.0h0 M498.0 11.0h0 M498.8 11.0h0 M499.5 11.0h0 M500.3 11.0h0 M501.1 11.0h0 M501.8 10.9h0 M502.6 11.0h0 M503.4 10.9h0 M504.1 11.0h0 M504.9 11.0h0 M505.7 11.0h0 M506.4 10.9h0 M507.2 11.0h0 M508.0 11.0h0 M508.7 11.0h0 M509.5 11.0h0 M510.3 11.0h0 M511.1 10.9h0 M511.8 10.9h0 M512.6 11.0h0 M513.4 11.0h0 M514.1 10.9h0 M514.9 11.0h0 M515.7 10.9h0 M516.4 11.0h0 M517.2 11.0h0 M518.0 11.0h0 M518.7 10.9h0 M519.5 11.0h0 M520.3 11.0h0 M521.0 11.0h0 M521.8 11.0h0 M522.6 11.0h0 M523.3 10.9h0 M524.1 11.0h0 M524.9 11.0h0 M525.6 10.9h0 M526.4 10.9h0 M527.2 10.9h0 M527.9 11.0h0 M528.7 10.9h0 M529.5 10.9h0 M530.2 11.0h0 M531.0 11.0h0 M531.8 10.9h0 M532.5 11.0h0 M533.3 11.0h0 M534.0 10.6h0 M534.7 10.2h0 M535.4 10.3h0 M536.2 10.2h0 M537.0 10.3h0 M537.7 10.3h0 M538.5 10.2h0 M539.3 10.3h0 M540.0 10.2h0 M540.8 10.3h0 M541.6 10.2h0 M542.4 10.2h0 M543.1 10.2h0 M543.9 10.2h0 M544.7 10.2h0 M545.4 10.2h0 M546.2 10.3h0 M547.0 10.2h0 M547.7 10.3h0 M548.5 10.3h0 M549.3 10.2h0 M550.0 10.2h0 M550.8 10.2h0 M551.6 10.2h0 M552.3 10.2h0 M553.1 10.2h0 M553.9 10.3h0 M554.6 10.2h0 M555.4 10.2h0 M556.2 10.2h0 M556.9 10.2h0 M557.7 10.3h0 M558.5 10.2h0 M559.2 10.2h0 M560.0 10.3h0 M560.8 10.2h0 M561.6 10.2h0 M562.3 10.2h0 M563.1 10.2h0 M563.9 10.3h0 M564.6 10.2h0 M565.4 10.2h0 M566.2 10.3h0 M566.9 10.3h0 M567.7 10.3h0 M568.5 10.2h0 M569.2 10.2h0 M570.0 10.2h0 M570.8 10.2h0 M571.5 10.3h0 M572.3 10.3h0 M573.1 10.3h0 M573.8 10.3h0 M574.6 10.3h0 M575.4 10.2h0 M576.1 10.2h0 M576.9 10.3h0 M577.7 10.2h0 M578.4 10.3h0 M579.2 10.3h0 M580.0 10.2h0 M580.8 10.2h0 M581.5 10.2h0 M582.3 10.2h0 M583.1 10.3h0 M583.8 10.3h0 M584.6 10.3h0 M585.4 10.2h0" stroke="#2a8ad0" stroke-width="2.4" stroke-linecap="round"/>
<rect x="464.4" y="90.7" width="129.80000000000007" height="63.999999999999986" fill="#fff"/>
<path d="M594.2 90.7 H464.4 V154.7 H594.2" stroke="#606060" stroke-width="0.6" fill="none"/>
<path d="M464.4 151.1 h1.8" stroke="#555" stroke-width="0.5"/>
<text x="462.2" y="153.4" font-size="4.6" fill="#444" text-anchor="end" font-weight="normal" >0</text>
<path d="M464.4 143.5 h1.8" stroke="#555" stroke-width="0.5"/>
<text x="462.2" y="145.85" font-size="4.6" fill="#444" text-anchor="end" font-weight="normal" >5</text>
<path d="M464.4 136.0 h1.8" stroke="#555" stroke-width="0.5"/>
<text x="462.2" y="138.3" font-size="4.6" fill="#444" text-anchor="end" font-weight="normal" >10</text>
<path d="M464.4 128.4 h1.8" stroke="#555" stroke-width="0.5"/>
<text x="462.2" y="130.75" font-size="4.6" fill="#444" text-anchor="end" font-weight="normal" >15</text>
<path d="M464.4 120.9 h1.8" stroke="#555" stroke-width="0.5"/>
<text x="462.2" y="123.2" font-size="4.6" fill="#444" text-anchor="end" font-weight="normal" >20</text>
<path d="M464.4 113.3 h1.8" stroke="#555" stroke-width="0.5"/>
<text x="462.2" y="115.64999999999999" font-size="4.6" fill="#444" text-anchor="end" font-weight="normal" >25</text>
<path d="M464.4 105.8 h1.8" stroke="#555" stroke-width="0.5"/>
<text x="462.2" y="108.1" font-size="4.6" fill="#444" text-anchor="end" font-weight="normal" >30</text>
<path d="M464.4 98.2 h1.8" stroke="#555" stroke-width="0.5"/>
<text x="462.2" y="100.55" font-size="4.6" fill="#444" text-anchor="end" font-weight="normal" >35</text>
<path d="M464.4 90.7 h1.8" stroke="#555" stroke-width="0.5"/>
<text x="462.2" y="93.0" font-size="4.6" fill="#444" text-anchor="end" font-weight="normal" >40</text>
<path d="M464.8 154.7 v-1.8 M464.8 90.7 v1.8" stroke="#555" stroke-width="0.5"/>
<text x="464.8" y="161.89999999999998" font-size="4.6" fill="#555" text-anchor="middle" font-weight="normal" >-0.5</text>
<path d="M478.5 154.7 v-1.8 M478.5 90.7 v1.8" stroke="#555" stroke-width="0.5"/>
<text x="478.5" y="161.89999999999998" font-size="4.6" fill="#555" text-anchor="middle" font-weight="normal" >0.0</text>
<path d="M492.2 154.7 v-1.8 M492.2 90.7 v1.8" stroke="#555" stroke-width="0.5"/>
<text x="492.2" y="161.89999999999998" font-size="4.6" fill="#555" text-anchor="middle" font-weight="normal" >0.5</text>
<path d="M505.9 154.7 v-1.8 M505.9 90.7 v1.8" stroke="#555" stroke-width="0.5"/>
<text x="505.9" y="161.89999999999998" font-size="4.6" fill="#555" text-anchor="middle" font-weight="normal" >1.0</text>
<path d="M519.6 154.7 v-1.8 M519.6 90.7 v1.8" stroke="#555" stroke-width="0.5"/>
<text x="519.6" y="161.89999999999998" font-size="4.6" fill="#555" text-anchor="middle" font-weight="normal" >1.5</text>
<path d="M533.3 154.7 v-1.8 M533.3 90.7 v1.8" stroke="#555" stroke-width="0.5"/>
<text x="533.3" y="161.89999999999998" font-size="4.6" fill="#555" text-anchor="middle" font-weight="normal" >2.0</text>
<path d="M547.0 154.7 v-1.8 M547.0 90.7 v1.8" stroke="#555" stroke-width="0.5"/>
<text x="547.0" y="161.89999999999998" font-size="4.6" fill="#555" text-anchor="middle" font-weight="normal" >2.5</text>
<path d="M560.7 154.7 v-1.8 M560.7 90.7 v1.8" stroke="#555" stroke-width="0.5"/>
<text x="560.7" y="161.89999999999998" font-size="4.6" fill="#555" text-anchor="middle" font-weight="normal" >3.0</text>
<path d="M574.4 154.7 v-1.8 M574.4 90.7 v1.8" stroke="#555" stroke-width="0.5"/>
<text x="574.4" y="161.89999999999998" font-size="4.6" fill="#555" text-anchor="middle" font-weight="normal" >3.5</text>
<path d="M588.1 154.7 v-1.8 M588.1 90.7 v1.8" stroke="#555" stroke-width="0.5"/>
<text x="588.1" y="161.89999999999998" font-size="4.6" fill="#555" text-anchor="middle" font-weight="normal" >4.0</text>
<path d="M594.2 90.7 V154.7" stroke="#4a90d0" stroke-width="0.7"/>
<path d="M594.2 90.7 h-1.8" stroke="#4a90d0" stroke-width="0.5"/>
<text x="597.7" y="92.3" font-size="3.8" fill="#4a90d0" text-anchor="start" font-weight="normal" >10</text>
<text x="602.2" y="90.4" font-size="2.6" fill="#4a90d0" text-anchor="start" font-weight="normal" >0</text>
<path d="M594.2 106.7 h-1.8" stroke="#4a90d0" stroke-width="0.5"/>
<text x="597.7" y="108.3" font-size="3.8" fill="#4a90d0" text-anchor="start" font-weight="normal" >10</text>
<text x="602.2" y="106.4" font-size="2.6" fill="#4a90d0" text-anchor="start" font-weight="normal" >-1</text>
<path d="M594.2 122.7 h-1.8" stroke="#4a90d0" stroke-width="0.5"/>
<text x="597.7" y="124.29999999999998" font-size="3.8" fill="#4a90d0" text-anchor="start" font-weight="normal" >10</text>
<text x="602.2" y="122.39999999999999" font-size="2.6" fill="#4a90d0" text-anchor="start" font-weight="normal" >-2</text>
<path d="M594.2 138.7 h-1.8" stroke="#4a90d0" stroke-width="0.5"/>
<text x="597.7" y="140.29999999999998" font-size="3.8" fill="#4a90d0" text-anchor="start" font-weight="normal" >10</text>
<text x="602.2" y="138.39999999999998" font-size="2.6" fill="#4a90d0" text-anchor="start" font-weight="normal" >-3</text>
<path d="M594.2 154.7 h-1.8" stroke="#4a90d0" stroke-width="0.5"/>
<text x="597.7" y="156.29999999999998" font-size="3.8" fill="#4a90d0" text-anchor="start" font-weight="normal" >10</text>
<text x="602.2" y="154.39999999999998" font-size="2.6" fill="#4a90d0" text-anchor="start" font-weight="normal" >-4</text>
<text x="530.56" y="169.7" font-size="5.8" fill="#333" text-anchor="middle" font-weight="normal" textLength="20" lengthAdjust="spacingAndGlyphs" >Time (s)</text>
<text x="0" y="0" font-size="5.2" fill="#333" text-anchor="middle" textLength="37" lengthAdjust="spacingAndGlyphs" transform="translate(453.2,122.19999999999999) rotate(-90)">Mean SNR (dB)</text>
<text x="0" y="0" font-size="5.2" fill="#4a90d0" text-anchor="middle" transform="translate(610.6,122.19999999999999) rotate(-90)">BER</text>
<text x="615.7" y="125" font-size="11.6" fill="#1a1a1a" text-anchor="start" font-weight="normal" textLength="19" lengthAdjust="spacingAndGlyphs" stroke="#1a1a1a" stroke-width="0.2">PD2</text>
<path d="M478.5 150.6 L479.3 150.6 L480.0 150.6 L480.8 150.6 L481.6 150.6 L482.4 150.6 L483.1 150.5 L483.9 150.5 L484.7 150.5 L485.4 150.4 L486.2 150.4 L487.0 150.4 L487.7 150.4 L488.5 150.4 L489.3 150.4 L490.1 150.4 L490.8 150.3 L491.5 149.6 L492.2 148.8 L492.9 146.2 L493.6 143.5 L494.3 124.7 L494.9 105.8 L495.8 111.8 L496.7 111.5 L497.7 110.8 L498.4 111.1 L499.2 111.3 L500.0 110.8 L500.7 110.5 L501.5 111.3 L502.2 110.7 L503.0 110.6 L503.8 109.8 L504.5 109.7 L505.3 110.4 L506.1 109.6 L506.8 109.6 L507.6 110.4 L508.3 110.0 L509.1 110.4 L509.9 109.3 L510.6 109.4 L511.4 109.0 L512.1 108.6 L512.8 108.2 L513.4 107.5 L514.1 107.2 L514.9 107.3 L515.7 105.9 L516.5 106.1 L517.3 105.3 L518.0 103.7 L518.8 104.1 L519.6 103.4 L520.4 102.3 L521.2 100.1 L522.1 100.1 L522.9 99.3 L523.7 97.5 L524.5 97.4 L525.4 97.2 L526.2 97.0 L527.0 96.9 L527.8 96.7 L528.5 96.4 L529.2 95.9 L529.9 95.7 L530.6 95.2 L531.2 101.6 L531.9 108.1 L532.8 126.9 L533.3 145.1 L534.0 147.7 L534.7 150.3 L535.4 150.5 L536.0 150.6 L536.8 150.6 L537.6 150.6 L538.4 150.7 L539.1 150.6 L539.9 150.6 L540.7 150.7 L541.4 150.7 L542.2 150.6 L543.0 150.6 L543.7 150.7 L544.5 150.7 L545.3 150.7 L546.1 150.6 L546.8 150.6 L547.6 150.7 L548.4 150.7 L549.1 150.7 L549.9 150.7 L550.7 150.7 L551.5 150.7 L552.2 150.6 L553.0 150.6 L553.8 150.7 L554.5 150.6 L555.3 150.7 L556.1 150.6 L556.8 150.6 L557.6 150.6 L558.4 150.6 L559.2 150.6 L559.9 150.6 L560.7 150.6 L561.5 150.7 L562.2 150.7 L563.0 150.6 L563.8 150.6 L564.6 150.6 L565.3 150.7 L566.1 150.6 L566.9 150.7 L567.6 150.7 L568.4 150.7 L569.2 150.6 L569.9 150.7 L570.7 150.7 L571.5 150.6 L572.3 150.6 L573.0 150.7 L573.8 150.6 L574.6 150.7 L575.3 150.6 L576.1 150.6 L576.9 150.7 L577.7 150.7 L578.4 150.7 L579.2 150.6 L580.0 150.7 L580.7 150.7 L581.5 150.7 L582.3 150.7 L583.0 150.6 L583.8 150.7 L584.6 150.6 L585.4 150.6" stroke="#9a9a9a" stroke-width="0.5" fill="none"/>
<path d="M478.5 150.6h0 M479.3 150.6h0 M480.0 150.6h0 M480.8 150.6h0 M481.6 150.6h0 M482.4 150.6h0 M483.1 150.5h0 M483.9 150.5h0 M484.7 150.5h0 M485.4 150.4h0 M486.2 150.4h0 M487.0 150.4h0 M487.7 150.4h0 M488.5 150.4h0 M489.3 150.4h0 M490.1 150.4h0 M490.8 150.3h0 M491.5 149.6h0 M492.2 148.8h0 M492.9 146.2h0 M493.6 143.5h0 M494.3 124.7h0 M494.9 105.8h0 M495.8 111.8h0 M496.7 111.5h0 M497.7 110.8h0 M498.4 111.1h0 M499.2 111.3h0 M500.0 110.8h0 M500.7 110.5h0 M501.5 111.3h0 M502.2 110.7h0 M503.0 110.6h0 M503.8 109.8h0 M504.5 109.7h0 M505.3 110.4h0 M506.1 109.6h0 M506.8 109.6h0 M507.6 110.4h0 M508.3 110.0h0 M509.1 110.4h0 M509.9 109.3h0 M510.6 109.4h0 M511.4 109.0h0 M512.1 108.6h0 M512.8 108.2h0 M513.4 107.5h0 M514.1 107.2h0 M514.9 107.3h0 M515.7 105.9h0 M516.5 106.1h0 M517.3 105.3h0 M518.0 103.7h0 M518.8 104.1h0 M519.6 103.4h0 M520.4 102.3h0 M521.2 100.1h0 M522.1 100.1h0 M522.9 99.3h0 M523.7 97.5h0 M524.5 97.4h0 M525.4 97.2h0 M526.2 97.0h0 M527.0 96.9h0 M527.8 96.7h0 M528.5 96.4h0 M529.2 95.9h0 M529.9 95.7h0 M530.6 95.2h0 M531.2 101.6h0 M531.9 108.1h0 M532.8 126.9h0 M533.3 145.1h0 M534.0 147.7h0 M534.7 150.3h0 M535.4 150.5h0 M536.0 150.6h0 M536.8 150.6h0 M537.6 150.6h0 M538.4 150.7h0 M539.1 150.6h0 M539.9 150.6h0 M540.7 150.7h0 M541.4 150.7h0 M542.2 150.6h0 M543.0 150.6h0 M543.7 150.7h0 M544.5 150.7h0 M545.3 150.7h0 M546.1 150.6h0 M546.8 150.6h0 M547.6 150.7h0 M548.4 150.7h0 M549.1 150.7h0 M549.9 150.7h0 M550.7 150.7h0 M551.5 150.7h0 M552.2 150.6h0 M553.0 150.6h0 M553.8 150.7h0 M554.5 150.6h0 M555.3 150.7h0 M556.1 150.6h0 M556.8 150.6h0 M557.6 150.6h0 M558.4 150.6h0 M559.2 150.6h0 M559.9 150.6h0 M560.7 150.6h0 M561.5 150.7h0 M562.2 150.7h0 M563.0 150.6h0 M563.8 150.6h0 M564.6 150.6h0 M565.3 150.7h0 M566.1 150.6h0 M566.9 150.7h0 M567.6 150.7h0 M568.4 150.7h0 M569.2 150.6h0 M569.9 150.7h0 M570.7 150.7h0 M571.5 150.6h0 M572.3 150.6h0 M573.0 150.7h0 M573.8 150.6h0 M574.6 150.7h0 M575.3 150.6h0 M576.1 150.6h0 M576.9 150.7h0 M577.7 150.7h0 M578.4 150.7h0 M579.2 150.6h0 M580.0 150.7h0 M580.7 150.7h0 M581.5 150.7h0 M582.3 150.7h0 M583.0 150.6h0 M583.8 150.7h0 M584.6 150.6h0 M585.4 150.6h0" stroke="#383838" stroke-width="2.4" stroke-linecap="round"/>
<path d="M478.5 96.0 L479.3 96.0 L480.0 96.0 L480.8 95.9 L481.6 95.9 L482.4 96.0 L483.1 96.0 L483.9 96.0 L484.7 95.9 L485.4 96.0 L486.2 96.0 L487.0 95.9 L487.7 96.0 L488.5 96.0 L489.3 96.0 L490.1 96.0 L490.8 96.0 L491.7 99.8 L492.2 114.1 L493.0 125.4 L494.1 131.5 L494.8 133.7 L495.5 136.0 L496.2 135.2 L496.9 134.5 L497.7 133.4 L498.4 132.9 L499.2 133.2 L500.0 134.3 L500.7 134.4 L501.5 134.3 L502.3 134.5 L503.0 133.6 L503.8 133.4 L504.6 133.3 L505.3 134.5 L506.1 133.5 L506.9 134.5 L507.6 134.3 L508.4 133.8 L509.1 135.0 L509.9 135.0 L510.7 133.7 L511.4 134.7 L512.2 134.7 L513.0 134.3 L513.7 134.2 L514.5 135.4 L515.3 134.8 L516.0 134.7 L516.8 134.6 L517.6 135.2 L518.3 134.5 L519.1 133.9 L519.9 135.0 L520.6 134.7 L521.4 135.5 L522.1 135.3 L522.9 134.6 L523.7 135.6 L524.4 134.3 L525.2 134.3 L526.0 135.8 L526.7 134.3 L527.5 135.3 L528.3 134.6 L529.0 134.7 L529.8 135.6 L530.6 135.2 L531.2 134.1 L531.9 133.0 L532.6 130.0 L533.3 126.9 L534.1 113.3 L535.2 96.0 L536.0 96.0 L536.8 95.9 L537.5 96.0 L538.3 95.9 L539.1 95.9 L539.8 96.0 L540.6 96.0 L541.4 96.0 L542.2 96.0 L542.9 96.0 L543.7 96.0 L544.5 96.0 L545.2 96.0 L546.0 96.0 L546.8 96.0 L547.6 96.0 L548.3 96.0 L549.1 95.9 L549.9 96.0 L550.6 96.0 L551.4 95.9 L552.2 96.0 L553.0 96.0 L553.7 96.0 L554.5 96.0 L555.3 96.0 L556.0 96.0 L556.8 96.0 L557.6 96.0 L558.4 96.0 L559.1 96.0 L559.9 96.0 L560.7 95.9 L561.4 96.0 L562.2 96.0 L563.0 96.0 L563.8 96.0 L564.5 96.0 L565.3 95.9 L566.1 96.1 L566.8 96.0 L567.6 96.0 L568.4 95.9 L569.2 96.0 L569.9 96.0 L570.7 96.0 L571.5 96.0 L572.2 95.9 L573.0 96.0 L573.8 95.9 L574.6 96.0 L575.3 96.0 L576.1 96.0 L576.9 96.0 L577.6 95.9 L578.4 96.0 L579.2 96.0 L580.0 96.0 L580.7 96.0 L581.5 95.9 L582.3 95.9 L583.0 95.9 L583.8 96.0 L584.6 96.0 L585.4 96.0" stroke="#a8c8e8" stroke-width="0.5" fill="none"/>
<path d="M478.5 96.0h0 M479.3 96.0h0 M480.0 96.0h0 M480.8 95.9h0 M481.6 95.9h0 M482.4 96.0h0 M483.1 96.0h0 M483.9 96.0h0 M484.7 95.9h0 M485.4 96.0h0 M486.2 96.0h0 M487.0 95.9h0 M487.7 96.0h0 M488.5 96.0h0 M489.3 96.0h0 M490.1 96.0h0 M490.8 96.0h0 M491.7 99.8h0 M492.2 114.1h0 M493.0 125.4h0 M494.1 131.5h0 M494.8 133.7h0 M495.5 136.0h0 M496.2 135.2h0 M496.9 134.5h0 M497.7 133.4h0 M498.4 132.9h0 M499.2 133.2h0 M500.0 134.3h0 M500.7 134.4h0 M501.5 134.3h0 M502.3 134.5h0 M503.0 133.6h0 M503.8 133.4h0 M504.6 133.3h0 M505.3 134.5h0 M506.1 133.5h0 M506.9 134.5h0 M507.6 134.3h0 M508.4 133.8h0 M509.1 135.0h0 M509.9 135.0h0 M510.7 133.7h0 M511.4 134.7h0 M512.2 134.7h0 M513.0 134.3h0 M513.7 134.2h0 M514.5 135.4h0 M515.3 134.8h0 M516.0 134.7h0 M516.8 134.6h0 M517.6 135.2h0 M518.3 134.5h0 M519.1 133.9h0 M519.9 135.0h0 M520.6 134.7h0 M521.4 135.5h0 M522.1 135.3h0 M522.9 134.6h0 M523.7 135.6h0 M524.4 134.3h0 M525.2 134.3h0 M526.0 135.8h0 M526.7 134.3h0 M527.5 135.3h0 M528.3 134.6h0 M529.0 134.7h0 M529.8 135.6h0 M530.6 135.2h0 M531.2 134.1h0 M531.9 133.0h0 M532.6 130.0h0 M533.3 126.9h0 M534.1 113.3h0 M535.2 96.0h0 M536.0 96.0h0 M536.8 95.9h0 M537.5 96.0h0 M538.3 95.9h0 M539.1 95.9h0 M539.8 96.0h0 M540.6 96.0h0 M541.4 96.0h0 M542.2 96.0h0 M542.9 96.0h0 M543.7 96.0h0 M544.5 96.0h0 M545.2 96.0h0 M546.0 96.0h0 M546.8 96.0h0 M547.6 96.0h0 M548.3 96.0h0 M549.1 95.9h0 M549.9 96.0h0 M550.6 96.0h0 M551.4 95.9h0 M552.2 96.0h0 M553.0 96.0h0 M553.7 96.0h0 M554.5 96.0h0 M555.3 96.0h0 M556.0 96.0h0 M556.8 96.0h0 M557.6 96.0h0 M558.4 96.0h0 M559.1 96.0h0 M559.9 96.0h0 M560.7 95.9h0 M561.4 96.0h0 M562.2 96.0h0 M563.0 96.0h0 M563.8 96.0h0 M564.5 96.0h0 M565.3 95.9h0 M566.1 96.1h0 M566.8 96.0h0 M567.6 96.0h0 M568.4 95.9h0 M569.2 96.0h0 M569.9 96.0h0 M570.7 96.0h0 M571.5 96.0h0 M572.2 95.9h0 M573.0 96.0h0 M573.8 95.9h0 M574.6 96.0h0 M575.3 96.0h0 M576.1 96.0h0 M576.9 96.0h0 M577.6 95.9h0 M578.4 96.0h0 M579.2 96.0h0 M580.0 96.0h0 M580.7 96.0h0 M581.5 95.9h0 M582.3 95.9h0 M583.0 95.9h0 M583.8 96.0h0 M584.6 96.0h0 M585.4 96.0h0" stroke="#2a8ad0" stroke-width="2.4" stroke-linecap="round"/>
<rect x="464.4" y="175.7" width="129.80000000000007" height="64.0" fill="#fff"/>
<path d="M594.2 175.7 H464.4 V239.7 H594.2" stroke="#606060" stroke-width="0.6" fill="none"/>
<path d="M464.4 236.1 h1.8" stroke="#555" stroke-width="0.5"/>
<text x="462.2" y="238.4" font-size="4.6" fill="#444" text-anchor="end" font-weight="normal" >0</text>
<path d="M464.4 228.5 h1.8" stroke="#555" stroke-width="0.5"/>
<text x="462.2" y="230.85" font-size="4.6" fill="#444" text-anchor="end" font-weight="normal" >5</text>
<path d="M464.4 221.0 h1.8" stroke="#555" stroke-width="0.5"/>
<text x="462.2" y="223.3" font-size="4.6" fill="#444" text-anchor="end" font-weight="normal" >10</text>
<path d="M464.4 213.4 h1.8" stroke="#555" stroke-width="0.5"/>
<text x="462.2" y="215.75" font-size="4.6" fill="#444" text-anchor="end" font-weight="normal" >15</text>
<path d="M464.4 205.9 h1.8" stroke="#555" stroke-width="0.5"/>
<text x="462.2" y="208.20000000000002" font-size="4.6" fill="#444" text-anchor="end" font-weight="normal" >20</text>
<path d="M464.4 198.3 h1.8" stroke="#555" stroke-width="0.5"/>
<text x="462.2" y="200.65" font-size="4.6" fill="#444" text-anchor="end" font-weight="normal" >25</text>
<path d="M464.4 190.8 h1.8" stroke="#555" stroke-width="0.5"/>
<text x="462.2" y="193.1" font-size="4.6" fill="#444" text-anchor="end" font-weight="normal" >30</text>
<path d="M464.4 183.2 h1.8" stroke="#555" stroke-width="0.5"/>
<text x="462.2" y="185.55" font-size="4.6" fill="#444" text-anchor="end" font-weight="normal" >35</text>
<path d="M464.4 175.7 h1.8" stroke="#555" stroke-width="0.5"/>
<text x="462.2" y="178.0" font-size="4.6" fill="#444" text-anchor="end" font-weight="normal" >40</text>
<path d="M464.8 239.7 v-1.8 M464.8 175.7 v1.8" stroke="#555" stroke-width="0.5"/>
<text x="464.8" y="246.89999999999998" font-size="4.6" fill="#555" text-anchor="middle" font-weight="normal" >-0.5</text>
<path d="M478.5 239.7 v-1.8 M478.5 175.7 v1.8" stroke="#555" stroke-width="0.5"/>
<text x="478.5" y="246.89999999999998" font-size="4.6" fill="#555" text-anchor="middle" font-weight="normal" >0.0</text>
<path d="M492.2 239.7 v-1.8 M492.2 175.7 v1.8" stroke="#555" stroke-width="0.5"/>
<text x="492.2" y="246.89999999999998" font-size="4.6" fill="#555" text-anchor="middle" font-weight="normal" >0.5</text>
<path d="M505.9 239.7 v-1.8 M505.9 175.7 v1.8" stroke="#555" stroke-width="0.5"/>
<text x="505.9" y="246.89999999999998" font-size="4.6" fill="#555" text-anchor="middle" font-weight="normal" >1.0</text>
<path d="M519.6 239.7 v-1.8 M519.6 175.7 v1.8" stroke="#555" stroke-width="0.5"/>
<text x="519.6" y="246.89999999999998" font-size="4.6" fill="#555" text-anchor="middle" font-weight="normal" >1.5</text>
<path d="M533.3 239.7 v-1.8 M533.3 175.7 v1.8" stroke="#555" stroke-width="0.5"/>
<text x="533.3" y="246.89999999999998" font-size="4.6" fill="#555" text-anchor="middle" font-weight="normal" >2.0</text>
<path d="M547.0 239.7 v-1.8 M547.0 175.7 v1.8" stroke="#555" stroke-width="0.5"/>
<text x="547.0" y="246.89999999999998" font-size="4.6" fill="#555" text-anchor="middle" font-weight="normal" >2.5</text>
<path d="M560.7 239.7 v-1.8 M560.7 175.7 v1.8" stroke="#555" stroke-width="0.5"/>
<text x="560.7" y="246.89999999999998" font-size="4.6" fill="#555" text-anchor="middle" font-weight="normal" >3.0</text>
<path d="M574.4 239.7 v-1.8 M574.4 175.7 v1.8" stroke="#555" stroke-width="0.5"/>
<text x="574.4" y="246.89999999999998" font-size="4.6" fill="#555" text-anchor="middle" font-weight="normal" >3.5</text>
<path d="M588.1 239.7 v-1.8 M588.1 175.7 v1.8" stroke="#555" stroke-width="0.5"/>
<text x="588.1" y="246.89999999999998" font-size="4.6" fill="#555" text-anchor="middle" font-weight="normal" >4.0</text>
<path d="M594.2 175.7 V239.7" stroke="#4a90d0" stroke-width="0.7"/>
<path d="M594.2 175.7 h-1.8" stroke="#4a90d0" stroke-width="0.5"/>
<text x="597.7" y="177.29999999999998" font-size="3.8" fill="#4a90d0" text-anchor="start" font-weight="normal" >10</text>
<text x="602.2" y="175.39999999999998" font-size="2.6" fill="#4a90d0" text-anchor="start" font-weight="normal" >0</text>
<path d="M594.2 191.7 h-1.8" stroke="#4a90d0" stroke-width="0.5"/>
<text x="597.7" y="193.29999999999998" font-size="3.8" fill="#4a90d0" text-anchor="start" font-weight="normal" >10</text>
<text x="602.2" y="191.39999999999998" font-size="2.6" fill="#4a90d0" text-anchor="start" font-weight="normal" >-1</text>
<path d="M594.2 207.7 h-1.8" stroke="#4a90d0" stroke-width="0.5"/>
<text x="597.7" y="209.29999999999998" font-size="3.8" fill="#4a90d0" text-anchor="start" font-weight="normal" >10</text>
<text x="602.2" y="207.39999999999998" font-size="2.6" fill="#4a90d0" text-anchor="start" font-weight="normal" >-2</text>
<path d="M594.2 223.7 h-1.8" stroke="#4a90d0" stroke-width="0.5"/>
<text x="597.7" y="225.29999999999998" font-size="3.8" fill="#4a90d0" text-anchor="start" font-weight="normal" >10</text>
<text x="602.2" y="223.39999999999998" font-size="2.6" fill="#4a90d0" text-anchor="start" font-weight="normal" >-3</text>
<path d="M594.2 239.7 h-1.8" stroke="#4a90d0" stroke-width="0.5"/>
<text x="597.7" y="241.29999999999998" font-size="3.8" fill="#4a90d0" text-anchor="start" font-weight="normal" >10</text>
<text x="602.2" y="239.39999999999998" font-size="2.6" fill="#4a90d0" text-anchor="start" font-weight="normal" >-4</text>
<text x="530.56" y="254.7" font-size="5.8" fill="#333" text-anchor="middle" font-weight="normal" textLength="20" lengthAdjust="spacingAndGlyphs" >Time (s)</text>
<text x="0" y="0" font-size="5.2" fill="#333" text-anchor="middle" textLength="37" lengthAdjust="spacingAndGlyphs" transform="translate(453.2,207.2) rotate(-90)">Mean SNR (dB)</text>
<text x="0" y="0" font-size="5.2" fill="#4a90d0" text-anchor="middle" transform="translate(610.6,207.2) rotate(-90)">BER</text>
<text x="615.7" y="208.6" font-size="11.6" fill="#1a1a1a" text-anchor="start" font-weight="normal" textLength="19" lengthAdjust="spacingAndGlyphs" stroke="#1a1a1a" stroke-width="0.2">PD3</text>
<path d="M478.5 235.7 L479.3 235.7 L480.0 235.6 L480.8 235.6 L481.6 235.7 L482.4 235.7 L483.1 235.6 L483.9 235.7 L484.7 235.6 L485.4 235.6 L486.2 235.6 L487.0 235.7 L487.8 235.6 L488.5 235.6 L489.3 235.6 L490.1 235.6 L490.8 235.6 L491.6 235.7 L492.4 235.6 L493.2 235.6 L493.9 235.6 L494.7 235.6 L495.5 235.7 L496.3 235.6 L497.0 235.6 L497.8 235.6 L498.6 235.6 L499.3 235.7 L500.1 235.7 L500.9 235.6 L501.7 235.7 L502.4 235.6 L503.2 235.6 L504.0 235.7 L504.7 235.6 L505.5 235.6 L506.3 235.6 L507.1 235.7 L507.8 235.6 L508.6 235.6 L509.4 235.7 L510.1 235.7 L510.9 235.7 L511.7 235.7 L512.5 235.6 L513.2 235.6 L514.0 235.7 L514.8 235.6 L515.5 235.6 L516.3 235.7 L517.1 235.6 L517.9 235.6 L518.6 235.6 L519.4 235.6 L520.2 235.6 L521.0 235.7 L521.7 235.6 L522.5 235.6 L523.3 235.6 L524.0 235.7 L524.8 235.6 L525.6 235.6 L526.4 235.7 L527.1 235.7 L527.9 235.7 L528.7 235.7 L529.4 235.7 L530.2 235.6 L531.0 235.6 L531.8 235.6 L532.5 235.7 L533.3 235.6 L533.8 231.6 L534.7 207.4 L535.5 198.1 L536.2 198.4 L537.0 197.8 L537.8 197.1 L538.5 197.4 L539.3 197.4 L540.0 196.0 L540.8 196.0 L541.5 196.3 L542.3 194.7 L543.1 192.8 L543.9 191.1 L544.7 190.0 L545.4 188.7 L546.2 186.8 L547.0 184.3 L547.8 186.8 L548.5 187.8 L549.3 189.8 L550.0 191.2 L550.8 192.8 L551.6 194.0 L552.3 195.8 L553.1 197.6 L553.9 198.9 L554.6 198.8 L555.3 198.2 L556.1 198.8 L556.8 198.8 L557.5 198.1 L558.3 198.1 L559.0 197.6 L559.8 198.6 L560.5 198.0 L561.2 197.9 L562.0 198.4 L562.7 197.0 L563.4 197.6 L564.3 190.8 L565.4 192.3 L566.2 221.0 L567.0 234.6 L567.7 235.1 L568.4 235.7 L569.1 235.7 L569.9 235.7 L570.7 235.7 L571.5 235.6 L572.2 235.7 L573.0 235.7 L573.8 235.7 L574.5 235.6 L575.3 235.7 L576.1 235.6 L576.9 235.7 L577.6 235.6 L578.4 235.7 L579.2 235.7 L580.0 235.7 L580.7 235.6 L581.5 235.6 L582.3 235.7 L583.0 235.7 L583.8 235.6 L584.6 235.6 L585.4 235.6" stroke="#9a9a9a" stroke-width="0.5" fill="none"/>
<path d="M478.5 235.7h0 M479.3 235.7h0 M480.0 235.6h0 M480.8 235.6h0 M481.6 235.7h0 M482.4 235.7h0 M483.1 235.6h0 M483.9 235.7h0 M484.7 235.6h0 M485.4 235.6h0 M486.2 235.6h0 M487.0 235.7h0 M487.8 235.6h0 M488.5 235.6h0 M489.3 235.6h0 M490.1 235.6h0 M490.8 235.6h0 M491.6 235.7h0 M492.4 235.6h0 M493.2 235.6h0 M493.9 235.6h0 M494.7 235.6h0 M495.5 235.7h0 M496.3 235.6h0 M497.0 235.6h0 M497.8 235.6h0 M498.6 235.6h0 M499.3 235.7h0 M500.1 235.7h0 M500.9 235.6h0 M501.7 235.7h0 M502.4 235.6h0 M503.2 235.6h0 M504.0 235.7h0 M504.7 235.6h0 M505.5 235.6h0 M506.3 235.6h0 M507.1 235.7h0 M507.8 235.6h0 M508.6 235.6h0 M509.4 235.7h0 M510.1 235.7h0 M510.9 235.7h0 M511.7 235.7h0 M512.5 235.6h0 M513.2 235.6h0 M514.0 235.7h0 M514.8 235.6h0 M515.5 235.6h0 M516.3 235.7h0 M517.1 235.6h0 M517.9 235.6h0 M518.6 235.6h0 M519.4 235.6h0 M520.2 235.6h0 M521.0 235.7h0 M521.7 235.6h0 M522.5 235.6h0 M523.3 235.6h0 M524.0 235.7h0 M524.8 235.6h0 M525.6 235.6h0 M526.4 235.7h0 M527.1 235.7h0 M527.9 235.7h0 M528.7 235.7h0 M529.4 235.7h0 M530.2 235.6h0 M531.0 235.6h0 M531.8 235.6h0 M532.5 235.7h0 M533.3 235.6h0 M533.8 231.6h0 M534.7 207.4h0 M535.5 198.1h0 M536.2 198.4h0 M537.0 197.8h0 M537.8 197.1h0 M538.5 197.4h0 M539.3 197.4h0 M540.0 196.0h0 M540.8 196.0h0 M541.5 196.3h0 M542.3 194.7h0 M543.1 192.8h0 M543.9 191.1h0 M544.7 190.0h0 M545.4 188.7h0 M546.2 186.8h0 M547.0 184.3h0 M547.8 186.8h0 M548.5 187.8h0 M549.3 189.8h0 M550.0 191.2h0 M550.8 192.8h0 M551.6 194.0h0 M552.3 195.8h0 M553.1 197.6h0 M553.9 198.9h0 M554.6 198.8h0 M555.3 198.2h0 M556.1 198.8h0 M556.8 198.8h0 M557.5 198.1h0 M558.3 198.1h0 M559.0 197.6h0 M559.8 198.6h0 M560.5 198.0h0 M561.2 197.9h0 M562.0 198.4h0 M562.7 197.0h0 M563.4 197.6h0 M564.3 190.8h0 M565.4 192.3h0 M566.2 221.0h0 M567.0 234.6h0 M567.7 235.1h0 M568.4 235.7h0 M569.1 235.7h0 M569.9 235.7h0 M570.7 235.7h0 M571.5 235.6h0 M572.2 235.7h0 M573.0 235.7h0 M573.8 235.7h0 M574.5 235.6h0 M575.3 235.7h0 M576.1 235.6h0 M576.9 235.7h0 M577.6 235.6h0 M578.4 235.7h0 M579.2 235.7h0 M580.0 235.7h0 M580.7 235.6h0 M581.5 235.6h0 M582.3 235.7h0 M583.0 235.7h0 M583.8 235.6h0 M584.6 235.6h0 M585.4 235.6h0" stroke="#383838" stroke-width="2.4" stroke-linecap="round"/>
<path d="M478.5 181.0 L479.3 181.0 L480.0 181.0 L480.8 181.0 L481.6 181.0 L482.3 181.0 L483.1 181.0 L483.8 181.0 L484.6 180.9 L485.4 181.0 L486.1 180.9 L486.9 181.0 L487.7 180.9 L488.4 180.9 L489.2 180.9 L489.9 181.0 L490.7 181.0 L491.5 181.0 L492.2 180.9 L493.0 181.0 L493.8 181.0 L494.5 180.9 L495.3 181.0 L496.1 181.0 L496.8 181.0 L497.6 181.0 L498.3 180.9 L499.1 181.0 L499.9 181.0 L500.6 181.0 L501.4 180.9 L502.2 181.0 L502.9 180.9 L503.7 181.0 L504.5 181.0 L505.2 181.0 L506.0 181.0 L506.7 181.0 L507.5 181.0 L508.3 181.0 L509.0 181.0 L509.8 181.0 L510.6 181.0 L511.3 181.0 L512.1 181.0 L512.8 181.0 L513.6 181.0 L514.4 181.0 L515.1 181.0 L515.9 181.0 L516.7 181.0 L517.4 181.0 L518.2 181.0 L519.0 180.9 L519.7 181.0 L520.5 180.9 L521.2 180.9 L522.0 181.0 L522.8 180.9 L523.5 181.0 L524.3 181.0 L525.1 181.0 L525.8 181.0 L526.6 181.0 L527.4 180.9 L528.1 181.0 L528.9 181.0 L529.6 181.0 L530.4 181.0 L531.2 181.0 L531.9 181.0 L532.6 182.1 L533.3 183.2 L534.1 192.3 L534.7 214.2 L535.2 219.9 L536.0 220.3 L536.7 220.3 L537.5 219.6 L538.2 219.9 L539.0 220.9 L539.7 220.7 L540.5 219.7 L541.2 220.9 L542.0 220.5 L542.8 220.9 L543.5 220.4 L544.3 220.8 L545.0 220.5 L545.8 220.8 L546.6 221.2 L547.3 221.1 L548.1 221.2 L548.9 220.0 L549.6 221.0 L550.4 221.0 L551.2 219.5 L551.9 220.5 L552.7 219.4 L553.5 220.5 L554.2 219.9 L555.0 220.2 L555.8 219.1 L556.5 219.4 L557.3 219.2 L558.1 219.0 L558.8 218.7 L559.6 219.4 L560.4 218.9 L561.1 219.1 L561.9 219.5 L562.7 218.3 L563.4 218.7 L564.1 218.4 L564.8 218.0 L565.6 213.4 L566.7 190.8 L567.5 187.5 L568.2 184.3 L568.9 181.0 L569.7 180.9 L570.5 181.0 L571.3 181.0 L572.1 181.0 L572.8 181.0 L573.6 181.0 L574.4 181.0 L575.2 181.0 L576.0 181.0 L576.7 181.0 L577.5 181.0 L578.3 181.0 L579.1 181.0 L579.9 181.0 L580.7 181.0 L581.4 181.0 L582.2 180.9 L583.0 181.0 L583.8 181.0 L584.6 181.0 L585.4 181.0" stroke="#a8c8e8" stroke-width="0.5" fill="none"/>
<path d="M478.5 181.0h0 M479.3 181.0h0 M480.0 181.0h0 M480.8 181.0h0 M481.6 181.0h0 M482.3 181.0h0 M483.1 181.0h0 M483.8 181.0h0 M484.6 180.9h0 M485.4 181.0h0 M486.1 180.9h0 M486.9 181.0h0 M487.7 180.9h0 M488.4 180.9h0 M489.2 180.9h0 M489.9 181.0h0 M490.7 181.0h0 M491.5 181.0h0 M492.2 180.9h0 M493.0 181.0h0 M493.8 181.0h0 M494.5 180.9h0 M495.3 181.0h0 M496.1 181.0h0 M496.8 181.0h0 M497.6 181.0h0 M498.3 180.9h0 M499.1 181.0h0 M499.9 181.0h0 M500.6 181.0h0 M501.4 180.9h0 M502.2 181.0h0 M502.9 180.9h0 M503.7 181.0h0 M504.5 181.0h0 M505.2 181.0h0 M506.0 181.0h0 M506.7 181.0h0 M507.5 181.0h0 M508.3 181.0h0 M509.0 181.0h0 M509.8 181.0h0 M510.6 181.0h0 M511.3 181.0h0 M512.1 181.0h0 M512.8 181.0h0 M513.6 181.0h0 M514.4 181.0h0 M515.1 181.0h0 M515.9 181.0h0 M516.7 181.0h0 M517.4 181.0h0 M518.2 181.0h0 M519.0 180.9h0 M519.7 181.0h0 M520.5 180.9h0 M521.2 180.9h0 M522.0 181.0h0 M522.8 180.9h0 M523.5 181.0h0 M524.3 181.0h0 M525.1 181.0h0 M525.8 181.0h0 M526.6 181.0h0 M527.4 180.9h0 M528.1 181.0h0 M528.9 181.0h0 M529.6 181.0h0 M530.4 181.0h0 M531.2 181.0h0 M531.9 181.0h0 M532.6 182.1h0 M533.3 183.2h0 M534.1 192.3h0 M534.7 214.2h0 M535.2 219.9h0 M536.0 220.3h0 M536.7 220.3h0 M537.5 219.6h0 M538.2 219.9h0 M539.0 220.9h0 M539.7 220.7h0 M540.5 219.7h0 M541.2 220.9h0 M542.0 220.5h0 M542.8 220.9h0 M543.5 220.4h0 M544.3 220.8h0 M545.0 220.5h0 M545.8 220.8h0 M546.6 221.2h0 M547.3 221.1h0 M548.1 221.2h0 M548.9 220.0h0 M549.6 221.0h0 M550.4 221.0h0 M551.2 219.5h0 M551.9 220.5h0 M552.7 219.4h0 M553.5 220.5h0 M554.2 219.9h0 M555.0 220.2h0 M555.8 219.1h0 M556.5 219.4h0 M557.3 219.2h0 M558.1 219.0h0 M558.8 218.7h0 M559.6 219.4h0 M560.4 218.9h0 M561.1 219.1h0 M561.9 219.5h0 M562.7 218.3h0 M563.4 218.7h0 M564.1 218.4h0 M564.8 218.0h0 M565.6 213.4h0 M566.7 190.8h0 M567.5 187.5h0 M568.2 184.3h0 M568.9 181.0h0 M569.7 180.9h0 M570.5 181.0h0 M571.3 181.0h0 M572.1 181.0h0 M572.8 181.0h0 M573.6 181.0h0 M574.4 181.0h0 M575.2 181.0h0 M576.0 181.0h0 M576.7 181.0h0 M577.5 181.0h0 M578.3 181.0h0 M579.1 181.0h0 M579.9 181.0h0 M580.7 181.0h0 M581.4 181.0h0 M582.2 180.9h0 M583.0 181.0h0 M583.8 181.0h0 M584.6 181.0h0 M585.4 181.0h0" stroke="#2a8ad0" stroke-width="2.4" stroke-linecap="round"/>
<rect x="464.4" y="262.7" width="129.80000000000007" height="64.0" fill="#fff"/>
<path d="M594.2 262.7 H464.4 V326.7 H594.2" stroke="#606060" stroke-width="0.6" fill="none"/>
<path d="M464.4 323.1 h1.8" stroke="#555" stroke-width="0.5"/>
<text x="462.2" y="325.4" font-size="4.6" fill="#444" text-anchor="end" font-weight="normal" >0</text>
<path d="M464.4 315.5 h1.8" stroke="#555" stroke-width="0.5"/>
<text x="462.2" y="317.84999999999997" font-size="4.6" fill="#444" text-anchor="end" font-weight="normal" >5</text>
<path d="M464.4 308.0 h1.8" stroke="#555" stroke-width="0.5"/>
<text x="462.2" y="310.3" font-size="4.6" fill="#444" text-anchor="end" font-weight="normal" >10</text>
<path d="M464.4 300.4 h1.8" stroke="#555" stroke-width="0.5"/>
<text x="462.2" y="302.75" font-size="4.6" fill="#444" text-anchor="end" font-weight="normal" >15</text>
<path d="M464.4 292.9 h1.8" stroke="#555" stroke-width="0.5"/>
<text x="462.2" y="295.2" font-size="4.6" fill="#444" text-anchor="end" font-weight="normal" >20</text>
<path d="M464.4 285.3 h1.8" stroke="#555" stroke-width="0.5"/>
<text x="462.2" y="287.65" font-size="4.6" fill="#444" text-anchor="end" font-weight="normal" >25</text>
<path d="M464.4 277.8 h1.8" stroke="#555" stroke-width="0.5"/>
<text x="462.2" y="280.09999999999997" font-size="4.6" fill="#444" text-anchor="end" font-weight="normal" >30</text>
<path d="M464.4 270.2 h1.8" stroke="#555" stroke-width="0.5"/>
<text x="462.2" y="272.55" font-size="4.6" fill="#444" text-anchor="end" font-weight="normal" >35</text>
<path d="M464.4 262.7 h1.8" stroke="#555" stroke-width="0.5"/>
<text x="462.2" y="265.0" font-size="4.6" fill="#444" text-anchor="end" font-weight="normal" >40</text>
<path d="M464.8 326.7 v-1.8 M464.8 262.7 v1.8" stroke="#555" stroke-width="0.5"/>
<text x="464.8" y="333.9" font-size="4.6" fill="#555" text-anchor="middle" font-weight="normal" >-0.5</text>
<path d="M478.5 326.7 v-1.8 M478.5 262.7 v1.8" stroke="#555" stroke-width="0.5"/>
<text x="478.5" y="333.9" font-size="4.6" fill="#555" text-anchor="middle" font-weight="normal" >0.0</text>
<path d="M492.2 326.7 v-1.8 M492.2 262.7 v1.8" stroke="#555" stroke-width="0.5"/>
<text x="492.2" y="333.9" font-size="4.6" fill="#555" text-anchor="middle" font-weight="normal" >0.5</text>
<path d="M505.9 326.7 v-1.8 M505.9 262.7 v1.8" stroke="#555" stroke-width="0.5"/>
<text x="505.9" y="333.9" font-size="4.6" fill="#555" text-anchor="middle" font-weight="normal" >1.0</text>
<path d="M519.6 326.7 v-1.8 M519.6 262.7 v1.8" stroke="#555" stroke-width="0.5"/>
<text x="519.6" y="333.9" font-size="4.6" fill="#555" text-anchor="middle" font-weight="normal" >1.5</text>
<path d="M533.3 326.7 v-1.8 M533.3 262.7 v1.8" stroke="#555" stroke-width="0.5"/>
<text x="533.3" y="333.9" font-size="4.6" fill="#555" text-anchor="middle" font-weight="normal" >2.0</text>
<path d="M547.0 326.7 v-1.8 M547.0 262.7 v1.8" stroke="#555" stroke-width="0.5"/>
<text x="547.0" y="333.9" font-size="4.6" fill="#555" text-anchor="middle" font-weight="normal" >2.5</text>
<path d="M560.7 326.7 v-1.8 M560.7 262.7 v1.8" stroke="#555" stroke-width="0.5"/>
<text x="560.7" y="333.9" font-size="4.6" fill="#555" text-anchor="middle" font-weight="normal" >3.0</text>
<path d="M574.4 326.7 v-1.8 M574.4 262.7 v1.8" stroke="#555" stroke-width="0.5"/>
<text x="574.4" y="333.9" font-size="4.6" fill="#555" text-anchor="middle" font-weight="normal" >3.5</text>
<path d="M588.1 326.7 v-1.8 M588.1 262.7 v1.8" stroke="#555" stroke-width="0.5"/>
<text x="588.1" y="333.9" font-size="4.6" fill="#555" text-anchor="middle" font-weight="normal" >4.0</text>
<path d="M594.2 262.7 V326.7" stroke="#4a90d0" stroke-width="0.7"/>
<path d="M594.2 262.7 h-1.8" stroke="#4a90d0" stroke-width="0.5"/>
<text x="597.7" y="264.3" font-size="3.8" fill="#4a90d0" text-anchor="start" font-weight="normal" >10</text>
<text x="602.2" y="262.4" font-size="2.6" fill="#4a90d0" text-anchor="start" font-weight="normal" >0</text>
<path d="M594.2 278.7 h-1.8" stroke="#4a90d0" stroke-width="0.5"/>
<text x="597.7" y="280.3" font-size="3.8" fill="#4a90d0" text-anchor="start" font-weight="normal" >10</text>
<text x="602.2" y="278.4" font-size="2.6" fill="#4a90d0" text-anchor="start" font-weight="normal" >-1</text>
<path d="M594.2 294.7 h-1.8" stroke="#4a90d0" stroke-width="0.5"/>
<text x="597.7" y="296.3" font-size="3.8" fill="#4a90d0" text-anchor="start" font-weight="normal" >10</text>
<text x="602.2" y="294.4" font-size="2.6" fill="#4a90d0" text-anchor="start" font-weight="normal" >-2</text>
<path d="M594.2 310.7 h-1.8" stroke="#4a90d0" stroke-width="0.5"/>
<text x="597.7" y="312.3" font-size="3.8" fill="#4a90d0" text-anchor="start" font-weight="normal" >10</text>
<text x="602.2" y="310.4" font-size="2.6" fill="#4a90d0" text-anchor="start" font-weight="normal" >-3</text>
<path d="M594.2 326.7 h-1.8" stroke="#4a90d0" stroke-width="0.5"/>
<text x="597.7" y="328.3" font-size="3.8" fill="#4a90d0" text-anchor="start" font-weight="normal" >10</text>
<text x="602.2" y="326.4" font-size="2.6" fill="#4a90d0" text-anchor="start" font-weight="normal" >-4</text>
<text x="530.56" y="341.7" font-size="5.8" fill="#333" text-anchor="middle" font-weight="normal" textLength="20" lengthAdjust="spacingAndGlyphs" >Time (s)</text>
<text x="0" y="0" font-size="5.2" fill="#333" text-anchor="middle" textLength="37" lengthAdjust="spacingAndGlyphs" transform="translate(453.2,294.2) rotate(-90)">Mean SNR (dB)</text>
<text x="0" y="0" font-size="5.2" fill="#4a90d0" text-anchor="middle" transform="translate(610.6,294.2) rotate(-90)">BER</text>
<text x="615.7" y="295.7" font-size="11.6" fill="#1a1a1a" text-anchor="start" font-weight="normal" textLength="19" lengthAdjust="spacingAndGlyphs" stroke="#1a1a1a" stroke-width="0.2">PD4</text>
<path d="M478.5 322.7 L479.3 322.7 L480.0 322.6 L480.8 322.6 L481.6 322.6 L482.3 322.6 L483.1 322.6 L483.9 322.6 L484.7 322.6 L485.4 322.6 L486.2 322.6 L487.0 322.6 L487.7 322.6 L488.5 322.6 L489.3 322.6 L490.0 322.6 L490.8 322.5 L491.6 322.5 L492.3 322.6 L493.1 322.5 L493.9 322.6 L494.7 322.6 L495.4 322.6 L496.2 322.6 L497.0 322.6 L497.7 322.6 L498.5 322.6 L499.3 322.5 L500.0 322.6 L500.8 322.6 L501.6 322.6 L502.3 322.5 L503.1 322.5 L503.9 322.6 L504.7 322.6 L505.4 322.6 L506.2 322.6 L507.0 322.6 L507.7 322.6 L508.5 322.5 L509.3 322.5 L510.0 322.5 L510.8 322.5 L511.6 322.5 L512.3 322.5 L513.1 322.6 L513.9 322.6 L514.6 322.5 L515.4 322.5 L516.2 322.5 L517.0 322.5 L517.7 322.5 L518.5 322.5 L519.3 322.5 L520.0 322.4 L520.8 322.5 L521.6 322.5 L522.3 322.5 L523.1 322.4 L523.9 322.6 L524.6 322.5 L525.4 322.5 L526.2 322.5 L527.0 322.5 L527.7 322.5 L528.5 322.5 L529.3 322.4 L530.0 322.5 L530.8 322.4 L531.6 322.4 L532.3 322.4 L533.1 322.5 L533.9 322.5 L534.6 322.5 L535.4 322.5 L536.2 322.5 L537.0 322.5 L537.7 322.4 L538.5 322.5 L539.3 322.5 L540.0 322.5 L540.8 322.4 L541.6 322.4 L542.3 322.5 L543.1 322.5 L543.9 322.4 L544.6 322.4 L545.4 322.4 L546.2 322.4 L547.0 322.4 L547.7 322.4 L548.5 322.5 L549.3 322.4 L550.0 322.4 L550.8 322.4 L551.6 322.3 L552.3 322.4 L553.1 322.4 L553.9 322.4 L554.6 322.5 L555.4 322.4 L556.2 322.3 L557.0 322.3 L557.7 322.4 L558.5 322.3 L559.3 322.3 L560.0 322.3 L560.8 322.3 L561.6 322.4 L562.3 322.4 L563.1 322.4 L563.9 322.4 L564.6 322.3 L565.4 322.3 L566.2 322.3 L567.0 318.6 L568.1 291.4 L568.9 276.2 L569.6 275.3 L570.3 274.3 L571.0 273.0 L571.7 271.8 L572.3 271.0 L573.0 269.7 L573.9 271.5 L574.7 271.8 L575.5 274.5 L576.3 275.4 L577.1 276.3 L577.8 276.8 L578.5 276.4 L579.2 276.8 L579.9 277.0 L580.7 276.7 L581.5 276.8 L582.3 274.9 L583.2 274.1 L584.0 273.3" stroke="#9a9a9a" stroke-width="0.5" fill="none"/>
<path d="M478.5 322.7h0 M479.3 322.7h0 M480.0 322.6h0 M480.8 322.6h0 M481.6 322.6h0 M482.3 322.6h0 M483.1 322.6h0 M483.9 322.6h0 M484.7 322.6h0 M485.4 322.6h0 M486.2 322.6h0 M487.0 322.6h0 M487.7 322.6h0 M488.5 322.6h0 M489.3 322.6h0 M490.0 322.6h0 M490.8 322.5h0 M491.6 322.5h0 M492.3 322.6h0 M493.1 322.5h0 M493.9 322.6h0 M494.7 322.6h0 M495.4 322.6h0 M496.2 322.6h0 M497.0 322.6h0 M497.7 322.6h0 M498.5 322.6h0 M499.3 322.5h0 M500.0 322.6h0 M500.8 322.6h0 M501.6 322.6h0 M502.3 322.5h0 M503.1 322.5h0 M503.9 322.6h0 M504.7 322.6h0 M505.4 322.6h0 M506.2 322.6h0 M507.0 322.6h0 M507.7 322.6h0 M508.5 322.5h0 M509.3 322.5h0 M510.0 322.5h0 M510.8 322.5h0 M511.6 322.5h0 M512.3 322.5h0 M513.1 322.6h0 M513.9 322.6h0 M514.6 322.5h0 M515.4 322.5h0 M516.2 322.5h0 M517.0 322.5h0 M517.7 322.5h0 M518.5 322.5h0 M519.3 322.5h0 M520.0 322.4h0 M520.8 322.5h0 M521.6 322.5h0 M522.3 322.5h0 M523.1 322.4h0 M523.9 322.6h0 M524.6 322.5h0 M525.4 322.5h0 M526.2 322.5h0 M527.0 322.5h0 M527.7 322.5h0 M528.5 322.5h0 M529.3 322.4h0 M530.0 322.5h0 M530.8 322.4h0 M531.6 322.4h0 M532.3 322.4h0 M533.1 322.5h0 M533.9 322.5h0 M534.6 322.5h0 M535.4 322.5h0 M536.2 322.5h0 M537.0 322.5h0 M537.7 322.4h0 M538.5 322.5h0 M539.3 322.5h0 M540.0 322.5h0 M540.8 322.4h0 M541.6 322.4h0 M542.3 322.5h0 M543.1 322.5h0 M543.9 322.4h0 M544.6 322.4h0 M545.4 322.4h0 M546.2 322.4h0 M547.0 322.4h0 M547.7 322.4h0 M548.5 322.5h0 M549.3 322.4h0 M550.0 322.4h0 M550.8 322.4h0 M551.6 322.3h0 M552.3 322.4h0 M553.1 322.4h0 M553.9 322.4h0 M554.6 322.5h0 M555.4 322.4h0 M556.2 322.3h0 M557.0 322.3h0 M557.7 322.4h0 M558.5 322.3h0 M559.3 322.3h0 M560.0 322.3h0 M560.8 322.3h0 M561.6 322.4h0 M562.3 322.4h0 M563.1 322.4h0 M563.9 322.4h0 M564.6 322.3h0 M565.4 322.3h0 M566.2 322.3h0 M567.0 318.6h0 M568.1 291.4h0 M568.9 276.2h0 M569.6 275.3h0 M570.3 274.3h0 M571.0 273.0h0 M571.7 271.8h0 M572.3 271.0h0 M573.0 269.7h0 M573.9 271.5h0 M574.7 271.8h0 M575.5 274.5h0 M576.3 275.4h0 M577.1 276.3h0 M577.8 276.8h0 M578.5 276.4h0 M579.2 276.8h0 M579.9 277.0h0 M580.7 276.7h0 M581.5 276.8h0 M582.3 274.9h0 M583.2 274.1h0 M584.0 273.3h0" stroke="#383838" stroke-width="2.4" stroke-linecap="round"/>
<path d="M478.5 267.2 L479.3 267.3 L480.0 267.2 L480.8 267.1 L481.6 267.3 L482.4 267.2 L483.1 267.3 L483.9 267.2 L484.7 267.1 L485.4 267.1 L486.2 267.2 L487.0 267.3 L487.8 267.1 L488.5 267.3 L489.3 267.3 L490.1 267.2 L490.8 267.3 L491.6 267.3 L492.4 267.1 L493.2 267.1 L493.9 267.3 L494.7 267.3 L495.5 267.3 L496.3 267.3 L497.0 267.3 L497.8 267.1 L498.6 267.3 L499.3 267.3 L500.1 267.3 L500.9 267.3 L501.7 267.2 L502.4 267.2 L503.2 267.2 L504.0 267.2 L504.7 267.2 L505.5 267.3 L506.3 267.3 L507.1 267.1 L507.8 267.3 L508.6 267.3 L509.4 267.2 L510.1 267.3 L510.9 267.2 L511.7 267.3 L512.5 267.3 L513.2 267.1 L514.0 267.3 L514.8 267.1 L515.5 267.3 L516.3 267.1 L517.1 267.2 L517.9 267.2 L518.6 267.3 L519.4 267.3 L520.2 267.2 L521.0 267.3 L521.7 267.3 L522.5 267.2 L523.3 267.1 L524.0 267.3 L524.8 267.1 L525.6 267.2 L526.4 267.3 L527.1 267.3 L527.9 267.3 L528.7 267.1 L529.4 267.3 L530.2 267.3 L531.0 267.3 L531.8 267.3 L532.5 267.3 L533.3 267.1 L534.0 267.7 L534.7 268.1 L535.4 268.3 L536.0 268.6 L536.8 268.6 L537.6 268.8 L538.4 268.8 L539.1 268.6 L539.9 268.7 L540.7 268.7 L541.4 268.8 L542.2 268.8 L543.0 268.8 L543.8 268.7 L544.5 268.7 L545.3 268.7 L546.1 268.7 L546.9 268.7 L547.6 268.8 L548.4 268.7 L549.2 268.7 L550.0 268.8 L550.7 268.7 L551.5 268.6 L552.3 268.7 L553.0 268.8 L553.8 268.6 L554.6 268.7 L555.4 268.8 L556.1 268.8 L556.9 268.8 L557.7 268.8 L558.5 268.6 L559.2 268.8 L560.0 268.7 L560.8 268.8 L561.5 268.8 L562.3 268.7 L563.1 268.7 L563.9 268.6 L564.6 268.7 L565.4 268.7 L566.2 268.7 L566.7 276.3 L567.3 292.9 L567.8 305.0 L568.4 308.0 L569.0 307.5 L569.7 307.0 L570.3 305.8 L571.1 307.7 L571.9 306.7 L572.8 307.1 L573.6 308.1 L574.4 307.0 L575.2 307.3 L576.0 306.3 L576.9 306.2 L577.7 305.9 L578.5 305.4 L579.3 305.0 L580.1 304.3 L580.9 304.8 L581.6 305.3 L582.4 305.7 L583.2 307.5 L584.0 307.2" stroke="#a8c8e8" stroke-width="0.5" fill="none"/>
<path d="M478.5 267.2h0 M479.3 267.3h0 M480.0 267.2h0 M480.8 267.1h0 M481.6 267.3h0 M482.4 267.2h0 M483.1 267.3h0 M483.9 267.2h0 M484.7 267.1h0 M485.4 267.1h0 M486.2 267.2h0 M487.0 267.3h0 M487.8 267.1h0 M488.5 267.3h0 M489.3 267.3h0 M490.1 267.2h0 M490.8 267.3h0 M491.6 267.3h0 M492.4 267.1h0 M493.2 267.1h0 M493.9 267.3h0 M494.7 267.3h0 M495.5 267.3h0 M496.3 267.3h0 M497.0 267.3h0 M497.8 267.1h0 M498.6 267.3h0 M499.3 267.3h0 M500.1 267.3h0 M500.9 267.3h0 M501.7 267.2h0 M502.4 267.2h0 M503.2 267.2h0 M504.0 267.2h0 M504.7 267.2h0 M505.5 267.3h0 M506.3 267.3h0 M507.1 267.1h0 M507.8 267.3h0 M508.6 267.3h0 M509.4 267.2h0 M510.1 267.3h0 M510.9 267.2h0 M511.7 267.3h0 M512.5 267.3h0 M513.2 267.1h0 M514.0 267.3h0 M514.8 267.1h0 M515.5 267.3h0 M516.3 267.1h0 M517.1 267.2h0 M517.9 267.2h0 M518.6 267.3h0 M519.4 267.3h0 M520.2 267.2h0 M521.0 267.3h0 M521.7 267.3h0 M522.5 267.2h0 M523.3 267.1h0 M524.0 267.3h0 M524.8 267.1h0 M525.6 267.2h0 M526.4 267.3h0 M527.1 267.3h0 M527.9 267.3h0 M528.7 267.1h0 M529.4 267.3h0 M530.2 267.3h0 M531.0 267.3h0 M531.8 267.3h0 M532.5 267.3h0 M533.3 267.1h0 M534.0 267.7h0 M534.7 268.1h0 M535.4 268.3h0 M536.0 268.6h0 M536.8 268.6h0 M537.6 268.8h0 M538.4 268.8h0 M539.1 268.6h0 M539.9 268.7h0 M540.7 268.7h0 M541.4 268.8h0 M542.2 268.8h0 M543.0 268.8h0 M543.8 268.7h0 M544.5 268.7h0 M545.3 268.7h0 M546.1 268.7h0 M546.9 268.7h0 M547.6 268.8h0 M548.4 268.7h0 M549.2 268.7h0 M550.0 268.8h0 M550.7 268.7h0 M551.5 268.6h0 M552.3 268.7h0 M553.0 268.8h0 M553.8 268.6h0 M554.6 268.7h0 M555.4 268.8h0 M556.1 268.8h0 M556.9 268.8h0 M557.7 268.8h0 M558.5 268.6h0 M559.2 268.8h0 M560.0 268.7h0 M560.8 268.8h0 M561.5 268.8h0 M562.3 268.7h0 M563.1 268.7h0 M563.9 268.6h0 M564.6 268.7h0 M565.4 268.7h0 M566.2 268.7h0 M566.7 276.3h0 M567.3 292.9h0 M567.8 305.0h0 M568.4 308.0h0 M569.0 307.5h0 M569.7 307.0h0 M570.3 305.8h0 M571.1 307.7h0 M571.9 306.7h0 M572.8 307.1h0 M573.6 308.1h0 M574.4 307.0h0 M575.2 307.3h0 M576.0 306.3h0 M576.9 306.2h0 M577.7 305.9h0 M578.5 305.4h0 M579.3 305.0h0 M580.1 304.3h0 M580.9 304.8h0 M581.6 305.3h0 M582.4 305.7h0 M583.2 307.5h0 M584.0 307.2h0" stroke="#2a8ad0" stroke-width="2.4" stroke-linecap="round"/>
<rect x="20.3" y="376.7" width="92.4" height="93.0" fill="#8dbd74"/>
<rect x="23.3" y="379.7" width="26.8" height="27.0" fill="#fff"/>
<rect x="26.3" y="382.7" width="20.8" height="21.0" fill="#404040"/>
<rect x="53.1" y="379.7" width="26.8" height="27.0" fill="#fff"/>
<rect x="56.1" y="382.7" width="20.8" height="21.0" fill="#404040"/>
<rect x="82.9" y="379.7" width="26.8" height="27.0" fill="#fff"/>
<rect x="85.9" y="382.7" width="20.8" height="21.0" fill="#404040"/>
<rect x="23.3" y="409.7" width="26.8" height="27.0" fill="#fff"/>
<rect x="26.3" y="412.7" width="20.8" height="21.0" fill="#404040"/>
<rect x="53.1" y="409.7" width="26.8" height="27.0" fill="#fff"/>
<rect x="56.1" y="412.7" width="20.8" height="21.0" fill="#404040"/>
<rect x="82.9" y="409.7" width="26.8" height="27.0" fill="#fff"/>
<rect x="85.9" y="412.7" width="20.8" height="21.0" fill="#404040"/>
<rect x="23.3" y="439.7" width="26.8" height="27.0" fill="#fff"/>
<rect x="26.3" y="442.7" width="20.8" height="21.0" fill="#404040"/>
<rect x="53.1" y="439.7" width="26.8" height="27.0" fill="#fff"/>
<rect x="56.1" y="442.7" width="20.8" height="21.0" fill="#404040"/>
<rect x="82.9" y="439.7" width="26.8" height="27.0" fill="#fff"/>
<rect x="85.9" y="442.7" width="20.8" height="21.0" fill="#404040"/>
<rect x="20.8" y="378.7" width="91.5" height="30.2" rx="5" fill="#f4544e" stroke="#d84432" stroke-width="1"/>
<path d="M51.6 379.7 V407.9" stroke="#d84432" stroke-width="1.6"/>
<path d="M81.4 379.7 V407.9" stroke="#d84432" stroke-width="1.6"/>
<rect x="26.3" y="382.7" width="20.8" height="21.0" fill="#c0161c"/>
<rect x="56.1" y="382.7" width="20.8" height="21.0" fill="#c0161c"/>
<rect x="85.9" y="382.7" width="20.8" height="21.0" fill="#c0161c"/>
<text x="37.2" y="366.1" font-size="11" fill="#111" text-anchor="start" font-weight="normal" textLength="53.5" lengthAdjust="spacingAndGlyphs" stroke="#111" stroke-width="0.4">Quadrant I</text>
<rect x="147" y="376.7" width="92.4" height="93.0" fill="#8dbd74"/>
<rect x="150.0" y="379.7" width="26.8" height="27.0" fill="#fff"/>
<rect x="153.0" y="382.7" width="20.8" height="21.0" fill="#404040"/>
<rect x="179.8" y="379.7" width="26.8" height="27.0" fill="#fff"/>
<rect x="182.8" y="382.7" width="20.8" height="21.0" fill="#404040"/>
<rect x="209.6" y="379.7" width="26.8" height="27.0" fill="#fff"/>
<rect x="212.6" y="382.7" width="20.8" height="21.0" fill="#404040"/>
<rect x="150.0" y="409.7" width="26.8" height="27.0" fill="#fff"/>
<rect x="153.0" y="412.7" width="20.8" height="21.0" fill="#404040"/>
<rect x="179.8" y="409.7" width="26.8" height="27.0" fill="#fff"/>
<rect x="182.8" y="412.7" width="20.8" height="21.0" fill="#404040"/>
<rect x="209.6" y="409.7" width="26.8" height="27.0" fill="#fff"/>
<rect x="212.6" y="412.7" width="20.8" height="21.0" fill="#404040"/>
<rect x="150.0" y="439.7" width="26.8" height="27.0" fill="#fff"/>
<rect x="153.0" y="442.7" width="20.8" height="21.0" fill="#404040"/>
<rect x="179.8" y="439.7" width="26.8" height="27.0" fill="#fff"/>
<rect x="182.8" y="442.7" width="20.8" height="21.0" fill="#404040"/>
<rect x="209.6" y="439.7" width="26.8" height="27.0" fill="#fff"/>
<rect x="212.6" y="442.7" width="20.8" height="21.0" fill="#404040"/>
<rect x="147.5" y="408.7" width="91.5" height="30.2" rx="5" fill="#3eba62" stroke="#2ea454" stroke-width="1"/>
<path d="M178.3 409.7 V437.9" stroke="#2ea454" stroke-width="1.6"/>
<path d="M208.1 409.7 V437.9" stroke="#2ea454" stroke-width="1.6"/>
<rect x="153.0" y="412.7" width="20.8" height="21.0" fill="#1a8a4c"/>
<rect x="182.8" y="412.7" width="20.8" height="21.0" fill="#1a8a4c"/>
<rect x="212.6" y="412.7" width="20.8" height="21.0" fill="#1a8a4c"/>
<text x="164.9" y="366.1" font-size="11" fill="#111" text-anchor="start" font-weight="normal" textLength="56.3" lengthAdjust="spacingAndGlyphs" stroke="#111" stroke-width="0.4">Quadrant II</text>
<rect x="274.4" y="376.7" width="92.4" height="93.0" fill="#8dbd74"/>
<rect x="277.4" y="379.7" width="26.8" height="27.0" fill="#fff"/>
<rect x="280.4" y="382.7" width="20.8" height="21.0" fill="#404040"/>
<rect x="307.2" y="379.7" width="26.8" height="27.0" fill="#fff"/>
<rect x="310.2" y="382.7" width="20.8" height="21.0" fill="#404040"/>
<rect x="337.0" y="379.7" width="26.8" height="27.0" fill="#fff"/>
<rect x="340.0" y="382.7" width="20.8" height="21.0" fill="#404040"/>
<rect x="277.4" y="409.7" width="26.8" height="27.0" fill="#fff"/>
<rect x="280.4" y="412.7" width="20.8" height="21.0" fill="#404040"/>
<rect x="307.2" y="409.7" width="26.8" height="27.0" fill="#fff"/>
<rect x="310.2" y="412.7" width="20.8" height="21.0" fill="#404040"/>
<rect x="337.0" y="409.7" width="26.8" height="27.0" fill="#fff"/>
<rect x="340.0" y="412.7" width="20.8" height="21.0" fill="#404040"/>
<rect x="277.4" y="439.7" width="26.8" height="27.0" fill="#fff"/>
<rect x="280.4" y="442.7" width="20.8" height="21.0" fill="#404040"/>
<rect x="307.2" y="439.7" width="26.8" height="27.0" fill="#fff"/>
<rect x="310.2" y="442.7" width="20.8" height="21.0" fill="#404040"/>
<rect x="337.0" y="439.7" width="26.8" height="27.0" fill="#fff"/>
<rect x="340.0" y="442.7" width="20.8" height="21.0" fill="#404040"/>
<rect x="274.9" y="438.7" width="91.5" height="30.2" rx="5" fill="#4cc8f0" stroke="#34aad4" stroke-width="1"/>
<path d="M305.7 439.7 V467.9" stroke="#34aad4" stroke-width="1.6"/>
<path d="M335.5 439.7 V467.9" stroke="#34aad4" stroke-width="1.6"/>
<rect x="280.4" y="442.7" width="20.8" height="21.0" fill="#1a88b8"/>
<rect x="310.2" y="442.7" width="20.8" height="21.0" fill="#1a88b8"/>
<rect x="340.0" y="442.7" width="20.8" height="21.0" fill="#1a88b8"/>
<text x="291.3" y="366.1" font-size="11" fill="#111" text-anchor="start" font-weight="normal" textLength="60" lengthAdjust="spacingAndGlyphs" stroke="#111" stroke-width="0.4">Quadrant III</text>
<rect x="402.3" y="376.7" width="92.4" height="93.0" fill="#8dbd74"/>
<rect x="405.3" y="379.7" width="26.8" height="27.0" fill="#fff"/>
<rect x="408.3" y="382.7" width="20.8" height="21.0" fill="#404040"/>
<rect x="435.1" y="379.7" width="26.8" height="27.0" fill="#fff"/>
<rect x="438.1" y="382.7" width="20.8" height="21.0" fill="#404040"/>
<rect x="464.9" y="379.7" width="26.8" height="27.0" fill="#fff"/>
<rect x="467.9" y="382.7" width="20.8" height="21.0" fill="#404040"/>
<rect x="405.3" y="409.7" width="26.8" height="27.0" fill="#fff"/>
<rect x="408.3" y="412.7" width="20.8" height="21.0" fill="#404040"/>
<rect x="435.1" y="409.7" width="26.8" height="27.0" fill="#fff"/>
<rect x="438.1" y="412.7" width="20.8" height="21.0" fill="#404040"/>
<rect x="464.9" y="409.7" width="26.8" height="27.0" fill="#fff"/>
<rect x="467.9" y="412.7" width="20.8" height="21.0" fill="#404040"/>
<rect x="405.3" y="439.7" width="26.8" height="27.0" fill="#fff"/>
<rect x="408.3" y="442.7" width="20.8" height="21.0" fill="#404040"/>
<rect x="435.1" y="439.7" width="26.8" height="27.0" fill="#fff"/>
<rect x="438.1" y="442.7" width="20.8" height="21.0" fill="#404040"/>
<rect x="464.9" y="439.7" width="26.8" height="27.0" fill="#fff"/>
<rect x="467.9" y="442.7" width="20.8" height="21.0" fill="#404040"/>
<rect x="463.4" y="378.7" width="30.9" height="90.2" rx="5" fill="#80f050" stroke="#64d044" stroke-width="1"/>
<path d="M464.4 408.2 H493.3" stroke="#64d044" stroke-width="1.6"/>
<path d="M464.4 438.2 H493.3" stroke="#64d044" stroke-width="1.6"/>
<rect x="467.9" y="382.7" width="20.8" height="21.0" fill="#50b028"/>
<rect x="467.9" y="412.7" width="20.8" height="21.0" fill="#50b028"/>
<rect x="467.9" y="442.7" width="20.8" height="21.0" fill="#50b028"/>
<text x="419.7" y="366.1" font-size="11" fill="#111" text-anchor="start" font-weight="normal" textLength="60.4" lengthAdjust="spacingAndGlyphs" stroke="#111" stroke-width="0.4">Quadrant IV</text>
<rect x="529" y="376.7" width="92.4" height="93.0" fill="#8dbd74"/>
<rect x="532.0" y="379.7" width="26.8" height="27.0" fill="#fff"/>
<rect x="535.0" y="382.7" width="20.8" height="21.0" fill="#404040"/>
<rect x="561.8" y="379.7" width="26.8" height="27.0" fill="#fff"/>
<rect x="564.8" y="382.7" width="20.8" height="21.0" fill="#404040"/>
<rect x="591.6" y="379.7" width="26.8" height="27.0" fill="#fff"/>
<rect x="594.6" y="382.7" width="20.8" height="21.0" fill="#404040"/>
<rect x="532.0" y="409.7" width="26.8" height="27.0" fill="#fff"/>
<rect x="535.0" y="412.7" width="20.8" height="21.0" fill="#404040"/>
<rect x="561.8" y="409.7" width="26.8" height="27.0" fill="#fff"/>
<rect x="564.8" y="412.7" width="20.8" height="21.0" fill="#404040"/>
<rect x="591.6" y="409.7" width="26.8" height="27.0" fill="#fff"/>
<rect x="594.6" y="412.7" width="20.8" height="21.0" fill="#404040"/>
<rect x="532.0" y="439.7" width="26.8" height="27.0" fill="#fff"/>
<rect x="535.0" y="442.7" width="20.8" height="21.0" fill="#404040"/>
<rect x="561.8" y="439.7" width="26.8" height="27.0" fill="#fff"/>
<rect x="564.8" y="442.7" width="20.8" height="21.0" fill="#404040"/>
<rect x="591.6" y="439.7" width="26.8" height="27.0" fill="#fff"/>
<rect x="594.6" y="442.7" width="20.8" height="21.0" fill="#404040"/>
<rect x="560.3" y="378.7" width="30.8" height="90.2" rx="5" fill="#f2a456" stroke="#d48234" stroke-width="1"/>
<path d="M561.3 408.2 H590.1" stroke="#d48234" stroke-width="1.6"/>
<path d="M561.3 438.2 H590.1" stroke="#d48234" stroke-width="1.6"/>
<rect x="564.8" y="382.7" width="20.8" height="21.0" fill="#b8601e"/>
<rect x="564.8" y="412.7" width="20.8" height="21.0" fill="#b8601e"/>
<rect x="564.8" y="442.7" width="20.8" height="21.0" fill="#b8601e"/>
<text x="545.6" y="366.1" font-size="11" fill="#111" text-anchor="start" font-weight="normal" textLength="58" lengthAdjust="spacingAndGlyphs" stroke="#111" stroke-width="0.4">Quadrant V</text>
<rect x="22.1" y="498.4" width="92.4" height="93.0" fill="#8dbd74"/>
<rect x="25.1" y="501.4" width="26.8" height="27.0" fill="#fff"/>
<rect x="28.1" y="504.4" width="20.8" height="21.0" fill="#404040"/>
<rect x="54.9" y="501.4" width="26.8" height="27.0" fill="#fff"/>
<rect x="57.9" y="504.4" width="20.8" height="21.0" fill="#404040"/>
<rect x="84.7" y="501.4" width="26.8" height="27.0" fill="#fff"/>
<rect x="87.7" y="504.4" width="20.8" height="21.0" fill="#404040"/>
<rect x="25.1" y="531.4" width="26.8" height="27.0" fill="#fff"/>
<rect x="28.1" y="534.4" width="20.8" height="21.0" fill="#404040"/>
<rect x="54.9" y="531.4" width="26.8" height="27.0" fill="#fff"/>
<rect x="57.9" y="534.4" width="20.8" height="21.0" fill="#404040"/>
<rect x="84.7" y="531.4" width="26.8" height="27.0" fill="#fff"/>
<rect x="87.7" y="534.4" width="20.8" height="21.0" fill="#404040"/>
<rect x="25.1" y="561.4" width="26.8" height="27.0" fill="#fff"/>
<rect x="28.1" y="564.4" width="20.8" height="21.0" fill="#404040"/>
<rect x="54.9" y="561.4" width="26.8" height="27.0" fill="#fff"/>
<rect x="57.9" y="564.4" width="20.8" height="21.0" fill="#404040"/>
<rect x="84.7" y="561.4" width="26.8" height="27.0" fill="#fff"/>
<rect x="87.7" y="564.4" width="20.8" height="21.0" fill="#404040"/>
<rect x="22.6" y="500.4" width="31.8" height="90.2" rx="5" fill="#b474f4" stroke="#9050d0" stroke-width="1"/>
<path d="M23.6 529.9 H53.4" stroke="#9050d0" stroke-width="1.6"/>
<path d="M23.6 559.9 H53.4" stroke="#9050d0" stroke-width="1.6"/>
<rect x="28.1" y="504.4" width="20.8" height="21.0" fill="#7838b8"/>
<rect x="28.1" y="534.4" width="20.8" height="21.0" fill="#7838b8"/>
<rect x="28.1" y="564.4" width="20.8" height="21.0" fill="#7838b8"/>
<text x="36.4" y="491.2" font-size="11" fill="#111" text-anchor="start" font-weight="normal" textLength="60.3" lengthAdjust="spacingAndGlyphs" stroke="#111" stroke-width="0.4">Quadrant VI</text>
<rect x="149.7" y="498.4" width="92.4" height="93.0" fill="#8dbd74"/>
<rect x="152.7" y="501.4" width="26.8" height="27.0" fill="#fff"/>
<rect x="155.7" y="504.4" width="20.8" height="21.0" fill="#404040"/>
<rect x="182.5" y="501.4" width="26.8" height="27.0" fill="#fff"/>
<rect x="185.5" y="504.4" width="20.8" height="21.0" fill="#404040"/>
<rect x="212.3" y="501.4" width="26.8" height="27.0" fill="#fff"/>
<rect x="215.3" y="504.4" width="20.8" height="21.0" fill="#404040"/>
<rect x="152.7" y="531.4" width="26.8" height="27.0" fill="#fff"/>
<rect x="155.7" y="534.4" width="20.8" height="21.0" fill="#404040"/>
<rect x="182.5" y="531.4" width="26.8" height="27.0" fill="#fff"/>
<rect x="185.5" y="534.4" width="20.8" height="21.0" fill="#404040"/>
<rect x="212.3" y="531.4" width="26.8" height="27.0" fill="#fff"/>
<rect x="215.3" y="534.4" width="20.8" height="21.0" fill="#404040"/>
<rect x="152.7" y="561.4" width="26.8" height="27.0" fill="#fff"/>
<rect x="155.7" y="564.4" width="20.8" height="21.0" fill="#404040"/>
<rect x="182.5" y="561.4" width="26.8" height="27.0" fill="#fff"/>
<rect x="185.5" y="564.4" width="20.8" height="21.0" fill="#404040"/>
<rect x="212.3" y="561.4" width="26.8" height="27.0" fill="#fff"/>
<rect x="215.3" y="564.4" width="20.8" height="21.0" fill="#404040"/>
<rect x="181.0" y="500.4" width="60.7" height="60.2" rx="5" fill="#f6c8a2" stroke="#d4a676" stroke-width="1"/>
<path d="M210.8 501.4 V559.6" stroke="#d4a676" stroke-width="1.6"/>
<path d="M182.0 529.9 H240.7" stroke="#d4a676" stroke-width="1.6"/>
<rect x="185.5" y="504.4" width="20.8" height="21.0" fill="#b8805e"/>
<rect x="215.3" y="504.4" width="20.8" height="21.0" fill="#b8805e"/>
<rect x="185.5" y="534.4" width="20.8" height="21.0" fill="#b8805e"/>
<rect x="215.3" y="534.4" width="20.8" height="21.0" fill="#b8805e"/>
<text x="160.2" y="491.2" font-size="11" fill="#111" text-anchor="start" font-weight="normal" textLength="63.4" lengthAdjust="spacingAndGlyphs" stroke="#111" stroke-width="0.4">Quadrant VII</text>
<rect x="277.3" y="498.4" width="92.4" height="93.0" fill="#8dbd74"/>
<rect x="280.3" y="501.4" width="26.8" height="27.0" fill="#fff"/>
<rect x="283.3" y="504.4" width="20.8" height="21.0" fill="#404040"/>
<rect x="310.1" y="501.4" width="26.8" height="27.0" fill="#fff"/>
<rect x="313.1" y="504.4" width="20.8" height="21.0" fill="#404040"/>
<rect x="339.9" y="501.4" width="26.8" height="27.0" fill="#fff"/>
<rect x="342.9" y="504.4" width="20.8" height="21.0" fill="#404040"/>
<rect x="280.3" y="531.4" width="26.8" height="27.0" fill="#fff"/>
<rect x="283.3" y="534.4" width="20.8" height="21.0" fill="#404040"/>
<rect x="310.1" y="531.4" width="26.8" height="27.0" fill="#fff"/>
<rect x="313.1" y="534.4" width="20.8" height="21.0" fill="#404040"/>
<rect x="339.9" y="531.4" width="26.8" height="27.0" fill="#fff"/>
<rect x="342.9" y="534.4" width="20.8" height="21.0" fill="#404040"/>
<rect x="280.3" y="561.4" width="26.8" height="27.0" fill="#fff"/>
<rect x="283.3" y="564.4" width="20.8" height="21.0" fill="#404040"/>
<rect x="310.1" y="561.4" width="26.8" height="27.0" fill="#fff"/>
<rect x="313.1" y="564.4" width="20.8" height="21.0" fill="#404040"/>
<rect x="339.9" y="561.4" width="26.8" height="27.0" fill="#fff"/>
<rect x="342.9" y="564.4" width="20.8" height="21.0" fill="#404040"/>
<rect x="277.8" y="500.4" width="61.6" height="60.2" rx="5" fill="#f282e4" stroke="#d466c8" stroke-width="1"/>
<path d="M308.6 501.4 V559.6" stroke="#d466c8" stroke-width="1.6"/>
<path d="M278.8 529.9 H338.4" stroke="#d466c8" stroke-width="1.6"/>
<rect x="283.3" y="504.4" width="20.8" height="21.0" fill="#b04ea8"/>
<rect x="313.1" y="504.4" width="20.8" height="21.0" fill="#b04ea8"/>
<rect x="283.3" y="534.4" width="20.8" height="21.0" fill="#b04ea8"/>
<rect x="313.1" y="534.4" width="20.8" height="21.0" fill="#b04ea8"/>
<text x="292.8" y="491.2" font-size="11" fill="#111" text-anchor="start" font-weight="normal" textLength="66.2" lengthAdjust="spacingAndGlyphs" stroke="#111" stroke-width="0.4">Quadrant VIII</text>
<rect x="405" y="498.4" width="92.4" height="93.0" fill="#8dbd74"/>
<rect x="408.0" y="501.4" width="26.8" height="27.0" fill="#fff"/>
<rect x="411.0" y="504.4" width="20.8" height="21.0" fill="#404040"/>
<rect x="437.8" y="501.4" width="26.8" height="27.0" fill="#fff"/>
<rect x="440.8" y="504.4" width="20.8" height="21.0" fill="#404040"/>
<rect x="467.6" y="501.4" width="26.8" height="27.0" fill="#fff"/>
<rect x="470.6" y="504.4" width="20.8" height="21.0" fill="#404040"/>
<rect x="408.0" y="531.4" width="26.8" height="27.0" fill="#fff"/>
<rect x="411.0" y="534.4" width="20.8" height="21.0" fill="#404040"/>
<rect x="437.8" y="531.4" width="26.8" height="27.0" fill="#fff"/>
<rect x="440.8" y="534.4" width="20.8" height="21.0" fill="#404040"/>
<rect x="467.6" y="531.4" width="26.8" height="27.0" fill="#fff"/>
<rect x="470.6" y="534.4" width="20.8" height="21.0" fill="#404040"/>
<rect x="408.0" y="561.4" width="26.8" height="27.0" fill="#fff"/>
<rect x="411.0" y="564.4" width="20.8" height="21.0" fill="#404040"/>
<rect x="437.8" y="561.4" width="26.8" height="27.0" fill="#fff"/>
<rect x="440.8" y="564.4" width="20.8" height="21.0" fill="#404040"/>
<rect x="467.6" y="561.4" width="26.8" height="27.0" fill="#fff"/>
<rect x="470.6" y="564.4" width="20.8" height="21.0" fill="#404040"/>
<rect x="405.5" y="530.4" width="61.6" height="60.2" rx="5" fill="#f2f23e" stroke="#dada30" stroke-width="1"/>
<path d="M436.3 531.4 V589.6" stroke="#dada30" stroke-width="1.6"/>
<path d="M406.5 559.9 H466.1" stroke="#dada30" stroke-width="1.6"/>
<rect x="411.0" y="534.4" width="20.8" height="21.0" fill="#c0b818"/>
<rect x="440.8" y="534.4" width="20.8" height="21.0" fill="#c0b818"/>
<rect x="411.0" y="564.4" width="20.8" height="21.0" fill="#c0b818"/>
<rect x="440.8" y="564.4" width="20.8" height="21.0" fill="#c0b818"/>
<text x="419.6" y="491.2" font-size="11" fill="#111" text-anchor="start" font-weight="normal" textLength="59.4" lengthAdjust="spacingAndGlyphs" stroke="#111" stroke-width="0.4">Quadrant IX</text>
<rect x="532" y="498.4" width="92.4" height="93.0" fill="#8dbd74"/>
<rect x="535.0" y="501.4" width="26.8" height="27.0" fill="#fff"/>
<rect x="538.0" y="504.4" width="20.8" height="21.0" fill="#404040"/>
<rect x="564.8" y="501.4" width="26.8" height="27.0" fill="#fff"/>
<rect x="567.8" y="504.4" width="20.8" height="21.0" fill="#404040"/>
<rect x="594.6" y="501.4" width="26.8" height="27.0" fill="#fff"/>
<rect x="597.6" y="504.4" width="20.8" height="21.0" fill="#404040"/>
<rect x="535.0" y="531.4" width="26.8" height="27.0" fill="#fff"/>
<rect x="538.0" y="534.4" width="20.8" height="21.0" fill="#404040"/>
<rect x="564.8" y="531.4" width="26.8" height="27.0" fill="#fff"/>
<rect x="567.8" y="534.4" width="20.8" height="21.0" fill="#404040"/>
<rect x="594.6" y="531.4" width="26.8" height="27.0" fill="#fff"/>
<rect x="597.6" y="534.4" width="20.8" height="21.0" fill="#404040"/>
<rect x="535.0" y="561.4" width="26.8" height="27.0" fill="#fff"/>
<rect x="538.0" y="564.4" width="20.8" height="21.0" fill="#404040"/>
<rect x="564.8" y="561.4" width="26.8" height="27.0" fill="#fff"/>
<rect x="567.8" y="564.4" width="20.8" height="21.0" fill="#404040"/>
<rect x="594.6" y="561.4" width="26.8" height="27.0" fill="#fff"/>
<rect x="597.6" y="564.4" width="20.8" height="21.0" fill="#404040"/>
<rect x="563.3" y="530.4" width="60.7" height="60.2" rx="5" fill="#8abce4" stroke="#6c9cc4" stroke-width="1"/>
<path d="M593.1 531.4 V589.6" stroke="#6c9cc4" stroke-width="1.6"/>
<path d="M564.3 559.9 H623.0" stroke="#6c9cc4" stroke-width="1.6"/>
<rect x="567.8" y="534.4" width="20.8" height="21.0" fill="#4a78a8"/>
<rect x="597.6" y="534.4" width="20.8" height="21.0" fill="#4a78a8"/>
<rect x="567.8" y="564.4" width="20.8" height="21.0" fill="#4a78a8"/>
<rect x="597.6" y="564.4" width="20.8" height="21.0" fill="#4a78a8"/>
<text x="546.4" y="491.2" font-size="11" fill="#111" text-anchor="start" font-weight="normal" textLength="56.8" lengthAdjust="spacingAndGlyphs" stroke="#111" stroke-width="0.4">Quadrant X</text>
</svg></body></html>
